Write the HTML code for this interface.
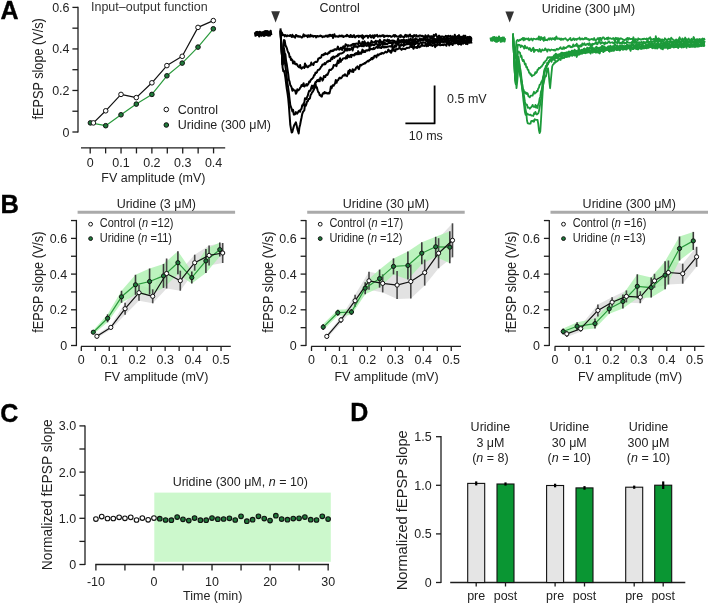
<!DOCTYPE html>
<html><head><meta charset="utf-8"><style>
html,body{margin:0;padding:0;background:#fff;}
svg{display:block;font-family:"Liberation Sans", sans-serif;will-change:transform;}
</style></head><body>
<svg width="709" height="604" viewBox="0 0 709 604">
<rect width="709" height="604" fill="#fff"/>
<text transform="translate(0.6,18.6) scale(1,1.0)" text-anchor="start" font-size="25" font-weight="bold" fill="#000" stroke="#000" stroke-width="0.35">A</text>
<text transform="translate(0.5,212.6) scale(1,1.0)" text-anchor="start" font-size="25.5" font-weight="bold" fill="#000" stroke="#000" stroke-width="0.35">B</text>
<text transform="translate(0.2,421.8) scale(1,1.0)" text-anchor="start" font-size="25" font-weight="bold" fill="#000" stroke="#000" stroke-width="0.35">C</text>
<text transform="translate(350.3,420.6) scale(1,1.0)" text-anchor="start" font-size="25" font-weight="bold" fill="#000" stroke="#000" stroke-width="0.35">D</text>
<line x1="78" y1="6.8" x2="78" y2="132.6" stroke="#1e1e1e" stroke-width="1.3" />
<line x1="72.4" y1="7.4" x2="78" y2="7.4" stroke="#1e1e1e" stroke-width="1.3" />
<line x1="72.4" y1="28.17" x2="78" y2="28.17" stroke="#1e1e1e" stroke-width="1.3" />
<line x1="72.4" y1="48.93" x2="78" y2="48.93" stroke="#1e1e1e" stroke-width="1.3" />
<line x1="72.4" y1="69.7" x2="78" y2="69.7" stroke="#1e1e1e" stroke-width="1.3" />
<line x1="72.4" y1="90.47" x2="78" y2="90.47" stroke="#1e1e1e" stroke-width="1.3" />
<line x1="72.4" y1="111.23" x2="78" y2="111.23" stroke="#1e1e1e" stroke-width="1.3" />
<line x1="72.4" y1="132" x2="78" y2="132" stroke="#1e1e1e" stroke-width="1.3" />
<text transform="translate(69.5,11.9) scale(1,1.08)" text-anchor="end" font-size="12.5" font-weight="normal" fill="#222222" >0.6</text>
<text transform="translate(69.5,53.43) scale(1,1.08)" text-anchor="end" font-size="12.5" font-weight="normal" fill="#222222" >0.4</text>
<text transform="translate(69.5,94.97) scale(1,1.08)" text-anchor="end" font-size="12.5" font-weight="normal" fill="#222222" >0.2</text>
<text transform="translate(69.5,136.5) scale(1,1.08)" text-anchor="end" font-size="12.5" font-weight="normal" fill="#222222" >0</text>
<text transform="translate(42.6,68.8) scale(1.08,1) rotate(-90)" text-anchor="middle" font-size="12.7" fill="#222222">fEPSP slope (V/s)</text>
<line x1="81" y1="147.8" x2="225.2" y2="147.8" stroke="#1e1e1e" stroke-width="1.3" />
<line x1="90.2" y1="147.8" x2="90.2" y2="153.4" stroke="#1e1e1e" stroke-width="1.3" />
<line x1="105.62" y1="147.8" x2="105.62" y2="153.4" stroke="#1e1e1e" stroke-width="1.3" />
<line x1="121.04" y1="147.8" x2="121.04" y2="153.4" stroke="#1e1e1e" stroke-width="1.3" />
<line x1="136.46" y1="147.8" x2="136.46" y2="153.4" stroke="#1e1e1e" stroke-width="1.3" />
<line x1="151.88" y1="147.8" x2="151.88" y2="153.4" stroke="#1e1e1e" stroke-width="1.3" />
<line x1="167.3" y1="147.8" x2="167.3" y2="153.4" stroke="#1e1e1e" stroke-width="1.3" />
<line x1="182.72" y1="147.8" x2="182.72" y2="153.4" stroke="#1e1e1e" stroke-width="1.3" />
<line x1="198.14" y1="147.8" x2="198.14" y2="153.4" stroke="#1e1e1e" stroke-width="1.3" />
<line x1="213.56" y1="147.8" x2="213.56" y2="153.4" stroke="#1e1e1e" stroke-width="1.3" />
<text transform="translate(90.2,167) scale(1,1.08)" text-anchor="middle" font-size="12.5" font-weight="normal" fill="#222222" >0</text>
<text transform="translate(121.04,167) scale(1,1.08)" text-anchor="middle" font-size="12.5" font-weight="normal" fill="#222222" >0.1</text>
<text transform="translate(151.88,167) scale(1,1.08)" text-anchor="middle" font-size="12.5" font-weight="normal" fill="#222222" >0.2</text>
<text transform="translate(182.72,167) scale(1,1.08)" text-anchor="middle" font-size="12.5" font-weight="normal" fill="#222222" >0.3</text>
<text transform="translate(213.56,167) scale(1,1.08)" text-anchor="middle" font-size="12.5" font-weight="normal" fill="#222222" >0.4</text>
<text transform="translate(153.4,181.6) scale(1,1.08)" text-anchor="middle" font-size="12.5" font-weight="normal" fill="#222222" >FV amplitude (mV)</text>
<text transform="translate(91,11) scale(1,1.08)" text-anchor="start" font-size="12.5" font-weight="normal" fill="#333" >Input–output function</text>
<polyline points="90.4,122.9 105.7,125.7 121,114.8 136.3,104.1 151.9,94.4 166.9,75.8 182.2,63.1 198,47.1 213.3,28.8" fill="none" stroke="#2a9a3c" stroke-width="1.2" stroke-linejoin="round" />
<polyline points="93.4,122.9 105.7,110.8 121,94.4 136.3,97.6 151.9,82.8 166.9,65.6 182.2,56.3 198,27.4 213.3,20.6" fill="none" stroke="#111" stroke-width="1.2" stroke-linejoin="round" />
<circle cx="90.4" cy="122.9" r="2.3" fill="#1f7a3a" stroke="#111" stroke-width="1.0"/>
<circle cx="105.7" cy="125.7" r="2.3" fill="#1f7a3a" stroke="#111" stroke-width="1.0"/>
<circle cx="121" cy="114.8" r="2.3" fill="#1f7a3a" stroke="#111" stroke-width="1.0"/>
<circle cx="136.3" cy="104.1" r="2.3" fill="#1f7a3a" stroke="#111" stroke-width="1.0"/>
<circle cx="151.9" cy="94.4" r="2.3" fill="#1f7a3a" stroke="#111" stroke-width="1.0"/>
<circle cx="166.9" cy="75.8" r="2.3" fill="#1f7a3a" stroke="#111" stroke-width="1.0"/>
<circle cx="182.2" cy="63.1" r="2.3" fill="#1f7a3a" stroke="#111" stroke-width="1.0"/>
<circle cx="198" cy="47.1" r="2.3" fill="#1f7a3a" stroke="#111" stroke-width="1.0"/>
<circle cx="213.3" cy="28.8" r="2.3" fill="#1f7a3a" stroke="#111" stroke-width="1.0"/>
<circle cx="93.4" cy="122.9" r="2.3" fill="#fff" stroke="#111" stroke-width="1.0"/>
<circle cx="105.7" cy="110.8" r="2.3" fill="#fff" stroke="#111" stroke-width="1.0"/>
<circle cx="121" cy="94.4" r="2.3" fill="#fff" stroke="#111" stroke-width="1.0"/>
<circle cx="136.3" cy="97.6" r="2.3" fill="#fff" stroke="#111" stroke-width="1.0"/>
<circle cx="151.9" cy="82.8" r="2.3" fill="#fff" stroke="#111" stroke-width="1.0"/>
<circle cx="166.9" cy="65.6" r="2.3" fill="#fff" stroke="#111" stroke-width="1.0"/>
<circle cx="182.2" cy="56.3" r="2.3" fill="#fff" stroke="#111" stroke-width="1.0"/>
<circle cx="198" cy="27.4" r="2.3" fill="#fff" stroke="#111" stroke-width="1.0"/>
<circle cx="213.3" cy="20.6" r="2.3" fill="#fff" stroke="#111" stroke-width="1.0"/>
<circle cx="166.3" cy="109.5" r="2.3" fill="#fff" stroke="#111" stroke-width="1.0"/>
<text transform="translate(177.7,114) scale(1,1.08)" text-anchor="start" font-size="12.5" font-weight="normal" fill="#222222" >Control</text>
<circle cx="166.3" cy="125" r="2.3" fill="#1f7a3a" stroke="#111" stroke-width="1.0"/>
<text transform="translate(177.7,128.8) scale(1,1.08)" text-anchor="start" font-size="12.5" font-weight="normal" fill="#222222" >Uridine (300 μM)</text>
<polyline points="255,32.3 255.6,35.68 256.2,32.14 256.8,34.97 257.4,32.03 258,34.91 258.6,32.34 259.2,36.3 259.8,32 260.4,35.13 261,32.59 261.6,35.71 262.2,32.36 262.8,34.94 263.4,32.28 264,35.92 264.6,31.49 265.2,35.23 265.8,31.16 266.4,34.73 267,31.19 267.6,35.36 268.2,31.54 268.8,35.66 269.4,32.39 270,35.39 270.6,30.79 271.2,35.18" fill="none" stroke="#000" stroke-width="2.3" stroke-linejoin="round" />
<polygon points="271.2,11.2 280,11.2 275.6,22.6" fill="#333" stroke="none" />
<text transform="translate(319.4,12.2) scale(1,1.08)" text-anchor="start" font-size="12.5" font-weight="normal" fill="#222222" >Control</text>
<polyline points="280.5,30.96 281.2,33.18 281.9,32.45 282.6,35.17 283.3,34.82 284,34.98 284.7,36.42 285.4,35.05 286.1,35.66 286.8,36.38 287.5,35.31 288.2,35.69 288.9,35.89 289.6,35.89 290.3,34.95 291,35.96 291.7,36.95 292.4,34.8 293.1,36.64 293.8,36.11 294.5,37.17 295.2,37.59 295.9,35.09 296.6,35.25 297.3,36.24 298,36.64 298.7,36.1 299.4,36.79 300.1,36.25 300.8,36.8 301.5,37.38 302.2,37.39 302.9,36.45 303.6,34.35 304.3,36.4 305,35.41 305.7,35.87 306.4,36.15 307.1,35.37 307.8,37.16 308.5,35.31 309.2,35.7 309.9,36.79 310.6,34.81 311.3,35.95 312,36.23 312.7,35.64 313.4,36.82 314.1,36.05 314.8,36.02 315.5,36.11 316.2,37.44 316.9,35.98 317.6,36.07 318.3,36.56 319,36.21 319.7,36.15 320.4,35.46 321.1,36.29 321.8,35.97 322.5,37.17 323.2,36.79 323.9,36.28 324.6,36.8 325.3,36.05 326,35.49 326.7,36.3 327.4,36.74 328.1,35.33 328.8,36.56 329.5,35.03 330.2,34.77 330.9,36.07 331.6,35.63 332.3,34.82 333,37.98 333.7,35.68 334.4,34.23 335.1,36.45 335.8,36.67 336.5,36.17 337.2,36.15 337.9,36.83 338.6,36.69 339.3,35.52 340,36.24 340.7,36.33 341.4,35.51 342.1,36.49 342.8,35.66 343.5,37.03 344.2,36.44 344.9,36.37 345.6,35.86 346.3,36.21 347,34.8 347.7,35.45 348.4,36.57 349.1,36.3 349.8,36.93 350.5,34.99 351.2,36.87 351.9,35.67 352.6,36.88 353.3,36.4 354,35.15 354.7,37.24 355.4,37.38 356.1,36.25 356.8,36.09 357.5,36.17 358.2,35.55 358.9,37.1 359.6,35.87 360.3,36.23 361,35.67 361.7,37.39 362.4,35.3 363.1,38.79 363.8,36.13 364.5,36.97 365.2,36.25 365.9,35.71 366.6,35.98 367.3,35.8 368,37.82 368.7,35.93 369.4,35.98 370.1,35.17 370.8,37.19 371.5,37.43 372.2,35.69 372.9,35.39 373.6,38.03 374.3,37.23 375,35.08 375.7,36.01 376.4,35.69 377.1,34.84 377.8,36.7 378.5,36.13 379.2,36.2 379.9,35.57 380.6,36.47 381.3,35.72 382,36.02 382.7,35.29 383.4,35.2 384.1,37.11 384.8,35.72 385.5,36.32 386.2,36.07 386.9,35.76 387.6,35.7 388.3,36.55 389,35.85 389.7,35.96 390.4,36.08 391.1,36.94 391.8,36.57 392.5,36.34 393.2,35.62 393.9,35.01 394.6,36.75 395.3,35.16 396,35.92 396.7,36.43 397.4,36.6 398.1,36.64 398.8,36.7 399.5,35.66 400.2,37.14 400.9,35.08 401.6,36.67 402.3,36.4 403,36.7 403.7,37.46 404.4,37.17 405.1,35.21 405.8,34.81 406.5,36.7 407.2,35.34 407.9,36.1 408.6,36.75 409.3,34.9 410,34.56 410.7,36.34 411.4,36.19 412.1,35.98 412.8,37.81 413.5,35.54 414.2,35.06 414.9,36.08 415.6,35.49 416.3,34.99 417,36.62 417.7,36.2 418.4,36.56 419.1,35.52 419.8,35.78 420.5,35.54 421.2,35.63 421.9,36.45 422.6,35.73 423.3,36.59 424,36.59 424.7,39.46 425.4,35.31 426.1,37.03 426.8,36.31 427.5,37.97 428.2,35.3 428.9,36.06 429.6,36.97 430.3,36.36 431,36.49 431.7,36.22 432.4,37.32 433.1,36.44 433.8,34.82 434.5,35.96 435.2,35.01 435.9,34.06 436.6,36.11 437.3,37.52 438,38.16 438.7,35.66 439.4,35.84 440.1,37.4 440.8,36.68 441.5,36.61 442.2,36.55 442.9,36.62 443.6,37.21 444.3,37.03 445,36.79 445.7,35.85 446.4,37.03 447.1,36.14 447.8,37.48 448.5,35.72 449.2,36.58 449.9,36.69 450.6,35.71 451.3,38 452,37.82 452.7,36.38 453.4,37.32 454.1,37.04 454.8,34.8 455.5,36.96 456.2,38.33 456.9,36.85 457.6,35.99 458.3,36.61 459,35.09 459.7,37.72 460.4,37.09 461.1,36.84 461.8,38.01 462.5,36.45 463.2,36.59 463.9,35.52 464.6,38.07 465.3,37.63 466,37.6 466.7,37.43 467.4,37.02 468.1,37.11 468.8,38.37 469.5,36.81 470.2,37.02 470.9,38.12 471.6,37.41" fill="none" stroke="#000" stroke-width="2.0" stroke-linejoin="round" />
<polyline points="280.5,30.1 281.2,42.19 281.9,54.65 282.6,64.35 283.3,54.28 284,40.05 284.7,40.62 285.4,44.81 286.1,46.53 286.8,48.06 287.5,50.46 288.2,52.48 288.9,53.16 289.6,57.04 290.3,56.69 291,60.02 291.7,59.27 292.4,60.1 293.1,63.47 293.8,61.56 294.5,61.79 295.2,64.17 295.9,64.4 296.6,63.79 297.3,64.59 298,66.3 298.7,66.84 299.4,67.35 300.1,64.92 300.8,67.81 301.5,68.59 302.2,68.05 302.9,67.16 303.6,67.45 304.3,67.88 305,63.49 305.7,66.83 306.4,65.43 307.1,66.84 307.8,67.3 308.5,66.57 309.2,65.66 309.9,65.35 310.6,65.41 311.3,62.51 312,64.19 312.7,64.59 313.4,64.99 314.1,62.79 314.8,62.25 315.5,61.82 316.2,62.06 316.9,62.01 317.6,60.92 318.3,58.48 319,58.44 319.7,57.82 320.4,57.94 321.1,57.51 321.8,54.98 322.5,54.81 323.2,55.13 323.9,53.99 324.6,54.64 325.3,53.06 326,53.94 326.7,53.64 327.4,54.21 328.1,53.44 328.8,52.18 329.5,52.88 330.2,51.07 330.9,50.81 331.6,51.3 332.3,50.32 333,51.06 333.7,50.46 334.4,49.28 335.1,49.74 335.8,49.14 336.5,49.8 337.2,48.35 337.9,46.61 338.6,49.16 339.3,49.66 340,49.31 340.7,47.69 341.4,47.64 342.1,50.06 342.8,47.05 343.5,46.24 344.2,48.5 344.9,46.98 345.6,44.25 346.3,45.07 347,45.07 347.7,46.48 348.4,45.24 349.1,45.54 349.8,45.64 350.5,45.77 351.2,44.89 351.9,45.35 352.6,44.14 353.3,44.37 354,43.71 354.7,45.16 355.4,44.12 356.1,43.44 356.8,43.65 357.5,43.68 358.2,44.3 358.9,40.9 359.6,42.85 360.3,43.27 361,45.38 361.7,44.12 362.4,41.65 363.1,43.79 363.8,44.73 364.5,41.34 365.2,42.77 365.9,43.88 366.6,43.27 367.3,43.33 368,42.37 368.7,44.12 369.4,43.89 370.1,42.96 370.8,42.97 371.5,40.86 372.2,42.79 372.9,42.09 373.6,42.49 374.3,42.61 375,41.76 375.7,40.68 376.4,42.15 377.1,41.25 377.8,41.48 378.5,41.2 379.2,42.93 379.9,39.78 380.6,42.38 381.3,41.63 382,42.23 382.7,42.85 383.4,41.35 384.1,39.94 384.8,40.59 385.5,40.32 386.2,40.81 386.9,41.21 387.6,39.62 388.3,41.34 389,39.92 389.7,41.24 390.4,40.9 391.1,40.71 391.8,40.86 392.5,40.47 393.2,40.38 393.9,41.14 394.6,40.75 395.3,42.12 396,43.79 396.7,41.66 397.4,41.16 398.1,38.49 398.8,41.64 399.5,40.48 400.2,42.04 400.9,40.24 401.6,40.49 402.3,40.06 403,41.89 403.7,39.5 404.4,40 405.1,41.96 405.8,40.16 406.5,40 407.2,40.54 407.9,40.64 408.6,39.23 409.3,39.88 410,40.69 410.7,38.57 411.4,40.02 412.1,41.06 412.8,39.35 413.5,39.89 414.2,39.4 414.9,40.87 415.6,38.26 416.3,39.18 417,39.25 417.7,40.11 418.4,40.03 419.1,40.59 419.8,38.33 420.5,40.05 421.2,39.26 421.9,38.96 422.6,39.85 423.3,38.75 424,37.87 424.7,39.13 425.4,38.27 426.1,38.9 426.8,39.65 427.5,41.19 428.2,40.53 428.9,39.18 429.6,39.77 430.3,38.73 431,37 431.7,38.36 432.4,39.59 433.1,38.76 433.8,37.75 434.5,39.74 435.2,39.12 435.9,39.46 436.6,39.26 437.3,39.64 438,37.58 438.7,40.07 439.4,39.45 440.1,37.81 440.8,39.41 441.5,37.99 442.2,38.95 442.9,38.87 443.6,39.2 444.3,38.01 445,41.84 445.7,40.68 446.4,38.08 447.1,37.7 447.8,38.75 448.5,38.88 449.2,38.4 449.9,38.99 450.6,38.43 451.3,39.31 452,36.74 452.7,38.84 453.4,39.59 454.1,40.77 454.8,38.08 455.5,36.87 456.2,38.17 456.9,39.38 457.6,37.92 458.3,38.4 459,38.73 459.7,36.4 460.4,38.01 461.1,38.35 461.8,37.12 462.5,37.6 463.2,38.36 463.9,38.77 464.6,38.5 465.3,35.7 466,38.27 466.7,39.2 467.4,39.01 468.1,38.52 468.8,37.9 469.5,39.02 470.2,38.1 470.9,37.64 471.6,39.51" fill="none" stroke="#000" stroke-width="2.0" stroke-linejoin="round" />
<polyline points="280.5,32.29 281.2,44.32 281.9,54.43 282.6,64.54 283.3,57.96 284,48.46 284.7,53.46 285.4,54.24 286.1,60.99 286.8,64.56 287.5,69.49 288.2,73.85 288.9,79.78 289.6,81.64 290.3,85.08 291,86.14 291.7,87.68 292.4,90.83 293.1,89.17 293.8,90.02 294.5,90.5 295.2,90.52 295.9,93.76 296.6,92.54 297.3,89.29 298,90.52 298.7,89.97 299.4,89.48 300.1,87.8 300.8,87.21 301.5,85.18 302.2,84.83 302.9,86.06 303.6,83.21 304.3,86.55 305,85.71 305.7,85.62 306.4,84.04 307.1,85.5 307.8,84.65 308.5,83.71 309.2,81.48 309.9,81.89 310.6,80.27 311.3,79.42 312,78.91 312.7,78.13 313.4,77.24 314.1,75.11 314.8,75.09 315.5,72.59 316.2,73.07 316.9,72.35 317.6,70.51 318.3,69.79 319,69.85 319.7,69.12 320.4,68.01 321.1,66.77 321.8,66.2 322.5,64.48 323.2,64.43 323.9,64.51 324.6,63.06 325.3,64.21 326,62.88 326.7,62.26 327.4,61.25 328.1,61.65 328.8,60.63 329.5,60.75 330.2,61.08 330.9,59.21 331.6,57.58 332.3,59.13 333,56.65 333.7,56.42 334.4,57.88 335.1,56.65 335.8,56.51 336.5,56.12 337.2,56.16 337.9,54.52 338.6,55.46 339.3,53.69 340,53.74 340.7,53.59 341.4,53.57 342.1,53.17 342.8,52.73 343.5,52.44 344.2,51.61 344.9,49.71 345.6,48.91 346.3,50.58 347,48.21 347.7,50.52 348.4,49.31 349.1,48.63 349.8,50.15 350.5,49.31 351.2,48.72 351.9,47.4 352.6,50.44 353.3,48.04 354,45.69 354.7,46.77 355.4,46.68 356.1,46.05 356.8,46.84 357.5,47.49 358.2,46.13 358.9,45.55 359.6,46.23 360.3,45.87 361,45.19 361.7,46.19 362.4,46.24 363.1,45.29 363.8,46.32 364.5,45.27 365.2,44.84 365.9,45.57 366.6,45.92 367.3,44.77 368,45.4 368.7,44.98 369.4,47.08 370.1,44.33 370.8,45.8 371.5,44.63 372.2,44.48 372.9,45.02 373.6,45.05 374.3,45.23 375,44.43 375.7,43.64 376.4,43.59 377.1,44.28 377.8,45.84 378.5,44.75 379.2,43.92 379.9,45.91 380.6,44.6 381.3,43.54 382,42.26 382.7,44.05 383.4,42.21 384.1,44.44 384.8,42.56 385.5,44.08 386.2,43.55 386.9,44.36 387.6,43.78 388.3,42.9 389,42.79 389.7,42.96 390.4,42.98 391.1,42.41 391.8,42.74 392.5,45.53 393.2,41.4 393.9,42.83 394.6,41.91 395.3,42.68 396,43.13 396.7,42.41 397.4,42.99 398.1,41.18 398.8,43.16 399.5,41.83 400.2,42.7 400.9,42.33 401.6,40.21 402.3,41.54 403,42.23 403.7,43.18 404.4,42.19 405.1,42.12 405.8,40.83 406.5,42.92 407.2,43.16 407.9,41.78 408.6,41.55 409.3,40.45 410,43.89 410.7,43.61 411.4,42.08 412.1,42.44 412.8,41.86 413.5,40.67 414.2,42.37 414.9,41.99 415.6,41.12 416.3,41.44 417,41.85 417.7,41.46 418.4,41.39 419.1,40.49 419.8,40.05 420.5,41.03 421.2,40.43 421.9,39.96 422.6,39.98 423.3,40.54 424,39.5 424.7,38.25 425.4,39.62 426.1,40.96 426.8,41.11 427.5,42.29 428.2,39.64 428.9,40.23 429.6,41.41 430.3,40.54 431,40.44 431.7,41.94 432.4,40.39 433.1,41.35 433.8,39.61 434.5,40.83 435.2,42.39 435.9,39.51 436.6,39.78 437.3,40.9 438,40.91 438.7,38.38 439.4,40.91 440.1,40.85 440.8,39.06 441.5,40.15 442.2,40.67 442.9,39.91 443.6,38.72 444.3,40.09 445,40.84 445.7,41.44 446.4,40.2 447.1,42.18 447.8,39.35 448.5,40.9 449.2,41.08 449.9,40.87 450.6,40.23 451.3,37.63 452,40.55 452.7,39.52 453.4,38.14 454.1,42.14 454.8,42.13 455.5,41.34 456.2,39.27 456.9,41.04 457.6,41.11 458.3,41.06 459,39.86 459.7,38.95 460.4,39.7 461.1,38.16 461.8,38.52 462.5,39.84 463.2,39.01 463.9,38.01 464.6,39.63 465.3,41.14 466,40.65 466.7,39.62 467.4,40.54 468.1,39.03 468.8,39.34 469.5,40.25 470.2,38.62 470.9,39.32 471.6,38.52" fill="none" stroke="#000" stroke-width="2.0" stroke-linejoin="round" />
<polyline points="280.5,28.37 281.2,43.41 281.9,53.09 282.6,63.84 283.3,61.18 284,55.77 284.7,60.73 285.4,66.73 286.1,71.51 286.8,77.81 287.5,83.29 288.2,87.87 288.9,93.1 289.6,99.42 290.3,105.04 291,107.04 291.7,109.09 292.4,111.47 293.1,109.88 293.8,114.54 294.5,114.56 295.2,114.22 295.9,112.08 296.6,113.37 297.3,113.65 298,112.31 298.7,111.07 299.4,110.54 300.1,111.82 300.8,109.27 301.5,108.87 302.2,105.28 302.9,105.63 303.6,103.39 304.3,102.62 305,98.17 305.7,98.48 306.4,99.14 307.1,96.94 307.8,95.54 308.5,92.78 309.2,90.72 309.9,90.89 310.6,90.27 311.3,87.42 312,85.63 312.7,88.38 313.4,85.71 314.1,86.13 314.8,84.21 315.5,82.12 316.2,82.08 316.9,80.59 317.6,80 318.3,81.23 319,79.43 319.7,81.2 320.4,77.51 321.1,78.13 321.8,78.76 322.5,80.67 323.2,79.24 323.9,75.92 324.6,76.67 325.3,76.98 326,75.14 326.7,74.48 327.4,75 328.1,73.44 328.8,71.62 329.5,69.66 330.2,70.09 330.9,69.98 331.6,68.95 332.3,68.83 333,67.61 333.7,65.01 334.4,65.59 335.1,65.32 335.8,64.55 336.5,66.13 337.2,62.9 337.9,60.56 338.6,63.13 339.3,61.19 340,58.32 340.7,61.87 341.4,60.11 342.1,59.98 342.8,58.72 343.5,58.33 344.2,58.1 344.9,58.38 345.6,58.61 346.3,56.29 347,58.26 347.7,54.89 348.4,56.26 349.1,57.25 349.8,56.37 350.5,54.95 351.2,57.17 351.9,54.82 352.6,55.33 353.3,54.98 354,55.57 354.7,53.85 355.4,54.63 356.1,53.02 356.8,54.22 357.5,54.22 358.2,51.12 358.9,54.22 359.6,52.85 360.3,52.5 361,53.91 361.7,52.3 362.4,49.63 363.1,52.2 363.8,50.57 364.5,52.11 365.2,51.97 365.9,50.45 366.6,50.21 367.3,50.62 368,50.31 368.7,49.37 369.4,50.34 370.1,48.19 370.8,49.21 371.5,49.03 372.2,48.94 372.9,49.18 373.6,47.84 374.3,49.01 375,48.24 375.7,47.69 376.4,46.96 377.1,46.91 377.8,47.88 378.5,46.69 379.2,47.27 379.9,47.82 380.6,47.71 381.3,48.04 382,46.58 382.7,45.92 383.4,47.43 384.1,46.82 384.8,47.36 385.5,46.46 386.2,47.28 386.9,46.94 387.6,46.78 388.3,46.55 389,46.4 389.7,46.2 390.4,46.13 391.1,46.63 391.8,45.44 392.5,47.05 393.2,47.2 393.9,47.95 394.6,45.47 395.3,45.29 396,46.92 396.7,45.1 397.4,44.3 398.1,44.65 398.8,44.88 399.5,46.67 400.2,45.14 400.9,45.61 401.6,44.09 402.3,45.03 403,45.2 403.7,45.98 404.4,44.04 405.1,44.94 405.8,44.65 406.5,43.58 407.2,44.27 407.9,44.01 408.6,42.4 409.3,44.52 410,44.41 410.7,43.6 411.4,42.86 412.1,44.9 412.8,42.32 413.5,44.41 414.2,44.64 414.9,41.52 415.6,44.05 416.3,43.19 417,41.65 417.7,43.17 418.4,43.16 419.1,43.93 419.8,43.11 420.5,42.87 421.2,42.75 421.9,43.18 422.6,42.23 423.3,42.5 424,42.81 424.7,42.39 425.4,42.7 426.1,43.91 426.8,44.24 427.5,43.71 428.2,43.02 428.9,42.62 429.6,44.27 430.3,42.85 431,42.51 431.7,42.78 432.4,42.75 433.1,43.55 433.8,40.86 434.5,44.02 435.2,41.75 435.9,41.31 436.6,41.61 437.3,43.7 438,42.06 438.7,42.24 439.4,42.95 440.1,43.17 440.8,41.37 441.5,41.91 442.2,41.1 442.9,42.22 443.6,42.02 444.3,41.8 445,41.53 445.7,41.72 446.4,41.42 447.1,42.35 447.8,43.07 448.5,40.46 449.2,41.79 449.9,43.14 450.6,42.19 451.3,42.68 452,41.66 452.7,40.96 453.4,40.64 454.1,41.76 454.8,41.54 455.5,41.91 456.2,39.82 456.9,40.42 457.6,42 458.3,41.74 459,41.38 459.7,42.21 460.4,40.76 461.1,40.6 461.8,40.81 462.5,42.53 463.2,42.4 463.9,39.16 464.6,42 465.3,40.78 466,40.86 466.7,40.02 467.4,42.8 468.1,40.19 468.8,38.62 469.5,41.78 470.2,40.56 470.9,40.99 471.6,39.89" fill="none" stroke="#000" stroke-width="2.0" stroke-linejoin="round" />
<polyline points="280.5,30.76 281.2,41.92 281.9,54.02 282.6,67.43 283.3,71.3 284,70.84 284.7,73.38 285.4,77.64 286.1,83.27 286.8,88.83 287.5,93.11 288.2,98.47 288.9,105.91 289.6,115.51 290.3,124.87 291,128.92 291.7,132.46 292.4,131.87 293.1,128.89 293.8,126.45 294.5,124.56 295.2,123.72 295.9,122.31 296.6,125.15 297.3,128.66 298,131.22 298.7,133.44 299.4,127.49 300.1,124.76 300.8,121.04 301.5,117.78 302.2,114.11 302.9,112.14 303.6,111.19 304.3,110.41 305,104.28 305.7,105.83 306.4,104.02 307.1,101.57 307.8,101.35 308.5,98.9 309.2,99.03 309.9,98.35 310.6,95.03 311.3,94.08 312,92.46 312.7,91.83 313.4,90.47 314.1,89.02 314.8,85.63 315.5,83.55 316.2,87.63 316.9,87.4 317.6,90.27 318.3,92.2 319,92.82 319.7,95.18 320.4,95 321.1,96.3 321.8,96.66 322.5,94.11 323.2,92.93 323.9,93.59 324.6,91.95 325.3,93.11 326,92.65 326.7,93.32 327.4,93.58 328.1,92.89 328.8,93.6 329.5,93.29 330.2,90.39 330.9,86.48 331.6,88.28 332.3,85.98 333,85.12 333.7,85.58 334.4,84.45 335.1,83.19 335.8,80.04 336.5,82.85 337.2,80.7 337.9,80.35 338.6,79.35 339.3,77.95 340,77.55 340.7,78.39 341.4,77.92 342.1,76.98 342.8,75.82 343.5,75.15 344.2,75.54 344.9,74.25 345.6,75.57 346.3,75.32 347,76.13 347.7,74.22 348.4,71.07 349.1,73.62 349.8,69.64 350.5,71.34 351.2,71.21 351.9,71.63 352.6,69.31 353.3,72.05 354,69.73 354.7,69.62 355.4,69.77 356.1,67.44 356.8,67.48 357.5,66.36 358.2,68.2 358.9,69.14 359.6,66.72 360.3,64.84 361,65.45 361.7,64.73 362.4,64.55 363.1,63.93 363.8,64.04 364.5,62.94 365.2,63.46 365.9,62.58 366.6,61.76 367.3,61.48 368,60.82 368.7,61.34 369.4,60.11 370.1,60.12 370.8,59.19 371.5,57.95 372.2,59.33 372.9,57.44 373.6,58.32 374.3,56.11 375,55.74 375.7,55.85 376.4,57.36 377.1,55.11 377.8,54.42 378.5,55.45 379.2,54.3 379.9,54.35 380.6,53.51 381.3,53.87 382,52.89 382.7,53.24 383.4,53.5 384.1,52.91 384.8,52.34 385.5,51.67 386.2,52.42 386.9,52.36 387.6,51.72 388.3,49.54 389,50.33 389.7,51.59 390.4,50.91 391.1,52.8 391.8,51.04 392.5,48.64 393.2,50.46 393.9,49.65 394.6,51.02 395.3,51.2 396,49.02 396.7,49.24 397.4,49.34 398.1,48.6 398.8,48.79 399.5,47.62 400.2,48.31 400.9,48.99 401.6,49.82 402.3,48.8 403,48.4 403.7,49.02 404.4,48.82 405.1,49.24 405.8,48.73 406.5,47.76 407.2,47.97 407.9,47.84 408.6,47.87 409.3,47.72 410,46.91 410.7,45.85 411.4,46.86 412.1,45.77 412.8,47.27 413.5,48.75 414.2,45.82 414.9,47.53 415.6,47.59 416.3,46.94 417,48.05 417.7,46.53 418.4,44.16 419.1,47.37 419.8,46.85 420.5,46.76 421.2,45.48 421.9,44.17 422.6,45.8 423.3,45.55 424,45.53 424.7,45.96 425.4,44.87 426.1,45.11 426.8,46.25 427.5,44.1 428.2,45.97 428.9,44.19 429.6,44.95 430.3,43.45 431,45.42 431.7,44.89 432.4,45.96 433.1,45.15 433.8,45.13 434.5,45.06 435.2,47.11 435.9,44.56 436.6,45.68 437.3,45.12 438,44.82 438.7,44.66 439.4,44.95 440.1,45.25 440.8,45.15 441.5,44.68 442.2,45.01 442.9,44.39 443.6,45.19 444.3,44.18 445,44.2 445.7,45.11 446.4,45.74 447.1,43.13 447.8,43.82 448.5,43.25 449.2,45.44 449.9,44.19 450.6,42.59 451.3,44.13 452,43.38 452.7,45.06 453.4,42.79 454.1,41.85 454.8,43.53 455.5,43.17 456.2,43.07 456.9,41.73 457.6,43.61 458.3,44.5 459,41.76 459.7,44.02 460.4,41.07 461.1,44.81 461.8,43.33 462.5,42.81 463.2,43.73 463.9,41.65 464.6,42.36 465.3,43.29 466,43.93 466.7,41.32 467.4,44.14 468.1,42.31 468.8,42.06 469.5,42.73 470.2,41.25 470.9,41.36 471.6,43.55" fill="none" stroke="#000" stroke-width="2.0" stroke-linejoin="round" />
<polyline points="434.6,85.6 434.6,123.4 405.4,123.4" fill="none" stroke="#000" stroke-width="1.8" stroke-linejoin="round" stroke-linecap="butt" stroke-linejoin="miter"/>
<text transform="translate(447.1,102.8) scale(1,1.08)" text-anchor="start" font-size="12.5" font-weight="normal" fill="#222222" >0.5 mV</text>
<text transform="translate(408.8,139.5) scale(1,1.08)" text-anchor="start" font-size="12.5" font-weight="normal" fill="#222222" >10 ms</text>
<polyline points="490.6,37.46 491.2,40.46 491.8,38.43 492.4,40.64 493,37.43 493.6,40.1 494.2,37.19 494.8,40.86 495.4,37.77 496,41.58 496.6,37.52 497.2,41.54 497.8,38.05 498.4,40.9 499,36.7 499.6,40.13 500.2,38.34 500.8,41.74 501.4,38.02 502,41.36 502.6,37.66 503.2,40.68 503.8,37.5 504.4,41.48 505,38.11" fill="none" stroke="#1c9a3a" stroke-width="2.2" stroke-linejoin="round" />
<polygon points="505.4,11.6 514,11.6 509.7,22.6" fill="#333" stroke="none" />
<text transform="translate(541.8,12.9) scale(1,1.08)" text-anchor="start" font-size="12.5" font-weight="normal" fill="#222222" >Uridine (300 μM)</text>
<polyline points="513,34.32 513.7,44.95 514.4,56.31 515.1,58.36 515.8,48.43 516.5,41.29 517.2,40.14 517.9,39.9 518.6,40.95 519.3,40.56 520,39.67 520.7,40.09 521.4,38.83 522.1,39.1 522.8,37.84 523.5,40.4 524.2,38.01 524.9,39.89 525.6,38.7 526.3,38.54 527,39.08 527.7,39.37 528.4,38.18 529.1,40.4 529.8,39.28 530.5,39.66 531.2,38.55 531.9,39.54 532.6,40.51 533.3,38.65 534,38.93 534.7,38.95 535.4,39.14 536.1,39.3 536.8,38.62 537.5,38.44 538.2,39.56 538.9,36.33 539.6,38.54 540.3,40.16 541,36.97 541.7,38.48 542.4,39.52 543.1,37.76 543.8,40.95 544.5,37.06 545.2,40.08 545.9,40.17 546.6,39.69 547.3,40.23 548,39.27 548.7,38.33 549.4,39.61 550.1,38.16 550.8,38.79 551.5,39.75 552.2,38.16 552.9,38.73 553.6,39.12 554.3,37.99 555,39.87 555.7,37.86 556.4,36.46 557.1,38.96 557.8,38.42 558.5,38.51 559.2,39.06 559.9,38.47 560.6,39.72 561.3,38.47 562,39.74 562.7,38.97 563.4,39.64 564.1,38.59 564.8,38.62 565.5,38.14 566.2,39.43 566.9,39.7 567.6,40.59 568.3,39.97 569,39.19 569.7,38.84 570.4,37.89 571.1,40.38 571.8,40.1 572.5,39.71 573.2,38.37 573.9,38.48 574.6,40.03 575.3,39.23 576,38.83 576.7,39.89 577.4,38.71 578.1,38.79 578.8,38.65 579.5,37.53 580.2,39.65 580.9,39.49 581.6,38.57 582.3,38.44 583,39.55 583.7,38.95 584.4,39.01 585.1,37.74 585.8,38.93 586.5,37.89 587.2,39.23 587.9,39.28 588.6,38.99 589.3,40.53 590,39.4 590.7,39.45 591.4,39.11 592.1,38.86 592.8,39.72 593.5,39.83 594.2,38.02 594.9,39.79 595.6,40.79 596.3,39.72 597,39.35 597.7,38.07 598.4,38.12 599.1,40.37 599.8,37.79 600.5,37.94 601.2,40.67 601.9,38.74 602.6,37.63 603.3,37.3 604,37.82 604.7,39.23 605.4,38.99 606.1,38.84 606.8,37.85 607.5,39.49 608.2,37.46 608.9,38.82 609.6,38.42 610.3,38.12 611,38.64 611.7,38.96 612.4,38.86 613.1,37.97 613.8,38.7 614.5,40.58 615.2,38.28 615.9,37.81 616.6,39.29 617.3,38.13 618,39.43 618.7,38.25 619.4,39.84 620.1,38.51 620.8,38.25 621.5,38.65 622.2,39.02 622.9,39.64 623.6,39.58 624.3,40.5 625,39.82 625.7,39.18 626.4,39.8 627.1,38.08 627.8,37.95 628.5,39.72 629.2,38.1 629.9,38.92 630.6,39.07 631.3,38.78 632,38.81 632.7,40.2 633.4,37.26 634.1,41.23 634.8,40.89 635.5,39.19 636.2,39.16 636.9,39.72 637.6,40.55 638.3,38.29 639,39.25 639.7,39.05 640.4,39.61 641.1,39.32 641.8,39.69 642.5,38.89 643.2,39.24 643.9,38.71 644.6,38.71 645.3,39.11 646,39.11 646.7,38.34 647.4,40.4 648.1,39.13 648.8,38.19 649.5,38.66 650.2,37.28 650.9,39.62 651.6,39.23 652.3,39.44 653,39.38 653.7,38.82 654.4,39.29 655.1,42.19 655.8,36.19 656.5,39.32 657.2,39.6 657.9,38.49 658.6,38.25 659.3,40.9 660,39.01 660.7,40.85 661.4,39.69 662.1,39.35 662.8,39.66 663.5,39.78 664.2,40.19 664.9,38.24 665.6,39.42 666.3,39.45 667,40.33 667.7,39.94 668.4,38.57 669.1,38.85 669.8,39.58 670.5,40.27 671.2,37.66 671.9,38.63 672.6,39.15 673.3,39.67 674,40.1 674.7,40.76 675.4,40.92 676.1,39.31 676.8,41.76 677.5,40.12 678.2,39.74 678.9,39 679.6,37.26 680.3,39.27 681,39.52 681.7,40.83 682.4,38.36 683.1,40.83 683.8,39.21 684.5,39.95 685.2,37.5 685.9,39.51 686.6,39.15 687.3,39.93 688,39.49 688.7,38.57 689.4,40.14 690.1,41.35 690.8,39.88 691.5,40.19 692.2,40.26 692.9,39.43 693.6,37.03 694.3,38.41 695,40.46 695.7,39.99 696.4,39.54 697.1,39.14 697.8,39.49 698.5,39.49 699.2,39.22 699.9,38.95 700.6,41.1 701.3,39.65 702,39.03 702.7,38.51 703.4,40.35 704.1,38.64 704.8,40.07" fill="none" stroke="#1c9a3a" stroke-width="1.8" stroke-linejoin="round" />
<polyline points="513,34.36 513.7,49.66 514.4,63.14 515.1,77.87 515.8,73.08 516.5,61.53 517.2,50.61 517.9,44.57 518.6,44.96 519.3,44.87 520,45.29 520.7,47.24 521.4,45.51 522.1,45.86 522.8,46.67 523.5,46.62 524.2,48.61 524.9,45.57 525.6,47.81 526.3,48.28 527,47.1 527.7,47.66 528.4,48.67 529.1,49.76 529.8,48.05 530.5,49.11 531.2,51.16 531.9,50.3 532.6,49.04 533.3,47.77 534,52.05 534.7,49.54 535.4,50.67 536.1,49.93 536.8,49.81 537.5,49.89 538.2,51.46 538.9,51.57 539.6,49.02 540.3,49.97 541,51.94 541.7,50.26 542.4,49.45 543.1,50.41 543.8,50.26 544.5,50.2 545.2,48.45 545.9,49.91 546.6,49.73 547.3,51.66 548,49.33 548.7,49.66 549.4,49.7 550.1,50.72 550.8,49.95 551.5,49.53 552.2,49.94 552.9,49.78 553.6,50.22 554.3,49.72 555,50.62 555.7,50.22 556.4,49.11 557.1,48.76 557.8,49.67 558.5,49.33 559.2,48.81 559.9,47.7 560.6,47.31 561.3,48.82 562,49 562.7,48.9 563.4,47.2 564.1,48.81 564.8,47.5 565.5,48.06 566.2,47.96 566.9,46.91 567.6,46.94 568.3,45.7 569,46.43 569.7,45.64 570.4,47.19 571.1,46.77 571.8,47.28 572.5,46.73 573.2,44.46 573.9,46.46 574.6,45.78 575.3,45.02 576,46.12 576.7,43.65 577.4,45.71 578.1,47.07 578.8,45.31 579.5,46.13 580.2,46.66 580.9,45.02 581.6,46.34 582.3,43.44 583,44.94 583.7,44.63 584.4,43.25 585.1,45 585.8,45.15 586.5,44.07 587.2,44.26 587.9,43.73 588.6,44.94 589.3,43.15 590,43.97 590.7,46.98 591.4,44.07 592.1,45.7 592.8,43.75 593.5,44.3 594.2,43.67 594.9,43.92 595.6,42.76 596.3,42.3 597,44.29 597.7,44.08 598.4,42 599.1,42.38 599.8,41.81 600.5,43.79 601.2,43.43 601.9,42.09 602.6,42.29 603.3,43.46 604,42.98 604.7,44.39 605.4,42.26 606.1,42.99 606.8,43.35 607.5,43.03 608.2,42.06 608.9,41.25 609.6,42.62 610.3,42.93 611,42.6 611.7,42.46 612.4,42.25 613.1,43.29 613.8,42.7 614.5,44.22 615.2,40.58 615.9,42.23 616.6,42.81 617.3,43.32 618,40.31 618.7,41 619.4,43.53 620.1,42.76 620.8,43.7 621.5,42.49 622.2,43.74 622.9,41.52 623.6,42.12 624.3,43.61 625,42.77 625.7,43.06 626.4,43.03 627.1,41.08 627.8,42.32 628.5,42.55 629.2,42.95 629.9,42.77 630.6,42.79 631.3,42.52 632,41.81 632.7,42.18 633.4,41.66 634.1,43.1 634.8,39.36 635.5,40.76 636.2,44.1 636.9,42.04 637.6,42.83 638.3,42.26 639,43.22 639.7,42.12 640.4,42.69 641.1,42.29 641.8,41.92 642.5,44.55 643.2,42.23 643.9,41.76 644.6,43.18 645.3,42.42 646,42.43 646.7,41.29 647.4,42.2 648.1,41.01 648.8,42.47 649.5,41.83 650.2,41.83 650.9,40.92 651.6,41.59 652.3,41.46 653,41.96 653.7,40.89 654.4,42 655.1,40.64 655.8,41.1 656.5,41.46 657.2,39.87 657.9,42.58 658.6,39.99 659.3,41.61 660,40.61 660.7,41.52 661.4,42.47 662.1,39.94 662.8,41.91 663.5,41.16 664.2,43.23 664.9,42.45 665.6,42.6 666.3,40.74 667,40.9 667.7,42.52 668.4,41.55 669.1,41.49 669.8,41.92 670.5,40.72 671.2,42.22 671.9,41.64 672.6,41.98 673.3,41.1 674,41.98 674.7,41.05 675.4,42.28 676.1,42.4 676.8,42.22 677.5,41.91 678.2,41.99 678.9,39.47 679.6,42.11 680.3,41.26 681,41.53 681.7,41.23 682.4,40.39 683.1,41.01 683.8,41.9 684.5,42.45 685.2,40.91 685.9,40.69 686.6,42.44 687.3,40.68 688,42.88 688.7,41.35 689.4,40.63 690.1,42.02 690.8,42.54 691.5,38.78 692.2,42.41 692.9,41.02 693.6,42.33 694.3,40.92 695,40.01 695.7,41.55 696.4,41.86 697.1,42.72 697.8,42.43 698.5,41.65 699.2,40.93 699.9,40.71 700.6,40.86 701.3,40.45 702,40.85 702.7,39.14 703.4,41.16 704.1,42.4 704.8,42.93" fill="none" stroke="#1c9a3a" stroke-width="1.8" stroke-linejoin="round" />
<polyline points="513,35.72 513.7,47.74 514.4,59.3 515.1,70.76 515.8,82.25 516.5,78.78 517.2,64.58 517.9,52.56 518.6,51.32 519.3,52.49 520,52.59 520.7,56.73 521.4,55.77 522.1,59.02 522.8,61.07 523.5,59.86 524.2,61.87 524.9,64.48 525.6,63.61 526.3,67.38 527,67.05 527.7,69.89 528.4,70.01 529.1,72.81 529.8,72.9 530.5,74.75 531.2,74.3 531.9,76.31 532.6,75.43 533.3,75.28 534,74.93 534.7,74.38 535.4,72.05 536.1,72.96 536.8,72.27 537.5,69.71 538.2,69.63 538.9,67.93 539.6,68.31 540.3,67.79 541,66.7 541.7,66.52 542.4,65.14 543.1,64.5 543.8,62.54 544.5,62.77 545.2,61.23 545.9,60.65 546.6,60.04 547.3,57.97 548,57.12 548.7,57.8 549.4,57.12 550.1,57.48 550.8,57.18 551.5,57.35 552.2,57.44 552.9,58.01 553.6,56.01 554.3,55.03 555,54.87 555.7,53.61 556.4,53.94 557.1,55.08 557.8,54.7 558.5,54.36 559.2,54.73 559.9,54.19 560.6,54.1 561.3,52.57 562,53.19 562.7,52.69 563.4,53.69 564.1,53.49 564.8,52.87 565.5,52.59 566.2,54.47 566.9,52.05 567.6,52.32 568.3,53.94 569,51.33 569.7,52.15 570.4,53.27 571.1,53.88 571.8,50.71 572.5,50.54 573.2,51.44 573.9,51.94 574.6,49.56 575.3,50.63 576,50.92 576.7,51.41 577.4,50.86 578.1,51.01 578.8,47.47 579.5,51.17 580.2,51.92 580.9,51.06 581.6,49.71 582.3,50.6 583,49.93 583.7,48.87 584.4,50.04 585.1,48.99 585.8,49.99 586.5,50.18 587.2,47.52 587.9,49.16 588.6,48.3 589.3,47.65 590,48.14 590.7,48.32 591.4,49.15 592.1,47.12 592.8,47.54 593.5,49.55 594.2,48.38 594.9,48.23 595.6,47.69 596.3,46.71 597,47.88 597.7,47.66 598.4,47.8 599.1,49.07 599.8,47.58 600.5,47.29 601.2,48.1 601.9,45.88 602.6,45.99 603.3,47.92 604,46.27 604.7,47.24 605.4,47.84 606.1,49.34 606.8,47.73 607.5,47.13 608.2,46.22 608.9,46.93 609.6,47.03 610.3,45.58 611,46.6 611.7,46.83 612.4,46.42 613.1,45.99 613.8,47.08 614.5,45.51 615.2,44.78 615.9,45.42 616.6,46.44 617.3,45.31 618,46.61 618.7,46.17 619.4,46.56 620.1,45.69 620.8,46.06 621.5,48.43 622.2,45.54 622.9,48.06 623.6,45.91 624.3,46.05 625,46.87 625.7,45.71 626.4,46.47 627.1,44.26 627.8,45.99 628.5,45.11 629.2,45.15 629.9,45.21 630.6,45.42 631.3,46.36 632,42.29 632.7,45.07 633.4,44.46 634.1,45.83 634.8,45.99 635.5,45.21 636.2,44.53 636.9,43.89 637.6,45.51 638.3,44.4 639,44.7 639.7,43.55 640.4,44.81 641.1,45.18 641.8,44.08 642.5,45.29 643.2,42.85 643.9,42.98 644.6,43.28 645.3,43.92 646,44.25 646.7,44.14 647.4,44.11 648.1,44.66 648.8,43.72 649.5,43.08 650.2,43.06 650.9,45.55 651.6,42.18 652.3,43.78 653,44.98 653.7,44.23 654.4,43.22 655.1,43.82 655.8,44.44 656.5,44.67 657.2,44.46 657.9,42.88 658.6,43.88 659.3,44.49 660,44.68 660.7,43.35 661.4,42.5 662.1,43.86 662.8,44.87 663.5,44.02 664.2,43.66 664.9,45.26 665.6,42.65 666.3,44.08 667,42.95 667.7,44.79 668.4,43.4 669.1,44.44 669.8,42.58 670.5,42.85 671.2,42.03 671.9,43.57 672.6,42.83 673.3,43.47 674,42.32 674.7,42.83 675.4,43.86 676.1,42.92 676.8,43.49 677.5,43.4 678.2,42.71 678.9,41.78 679.6,43.66 680.3,43.03 681,43.61 681.7,41.34 682.4,41.58 683.1,41.19 683.8,42.11 684.5,42.13 685.2,41.74 685.9,42.67 686.6,42.77 687.3,43.21 688,42.39 688.7,42.89 689.4,42.67 690.1,40.9 690.8,42.23 691.5,43.51 692.2,42.17 692.9,42.33 693.6,41.96 694.3,42.03 695,43.21 695.7,42.14 696.4,41.55 697.1,39.95 697.8,41.83 698.5,40.76 699.2,40.84 699.9,42.78 700.6,42.69 701.3,40.7 702,44.15 702.7,42.43 703.4,41.47 704.1,42.58 704.8,40.79" fill="none" stroke="#1c9a3a" stroke-width="1.8" stroke-linejoin="round" />
<polyline points="513,33.14 513.7,50.17 514.4,63.12 515.1,77.26 515.8,81.21 516.5,74.05 517.2,68.35 517.9,62.71 518.6,56.91 519.3,62.74 520,67.45 520.7,70.92 521.4,77.46 522.1,83.31 522.8,88.68 523.5,89.65 524.2,91.7 524.9,93.22 525.6,92.29 526.3,93.96 527,93.03 527.7,93.52 528.4,96.24 529.1,96.61 529.8,97.31 530.5,96.02 531.2,95.54 531.9,95.67 532.6,95.65 533.3,93.5 534,91.72 534.7,93.64 535.4,92.85 536.1,92.51 536.8,90.97 537.5,91.41 538.2,88.57 538.9,87.73 539.6,84.8 540.3,84.59 541,82.86 541.7,81.05 542.4,80.43 543.1,77.3 543.8,75.46 544.5,71.05 545.2,69.21 545.9,67.94 546.6,65.42 547.3,65.39 548,64.04 548.7,61.94 549.4,60.79 550.1,59.42 550.8,59.12 551.5,59.28 552.2,57.05 552.9,58.93 553.6,57.46 554.3,57.06 555,57.68 555.7,55.01 556.4,55.65 557.1,54.83 557.8,56.91 558.5,55.18 559.2,54.92 559.9,54.18 560.6,55.53 561.3,54.42 562,54.77 562.7,52.95 563.4,55.23 564.1,54.52 564.8,53.11 565.5,53.5 566.2,53.7 566.9,53.59 567.6,54.13 568.3,53.79 569,51.76 569.7,53.25 570.4,52.71 571.1,53.5 571.8,53.54 572.5,52.72 573.2,54 573.9,51.31 574.6,52.16 575.3,53.49 576,53.17 576.7,50.76 577.4,52.88 578.1,52.12 578.8,50.68 579.5,52.04 580.2,50.56 580.9,50.19 581.6,50.96 582.3,50.59 583,50 583.7,50.42 584.4,48.42 585.1,50.5 585.8,50.37 586.5,50.87 587.2,49.9 587.9,49.17 588.6,49.11 589.3,49.85 590,51.12 590.7,50.53 591.4,50.74 592.1,50.46 592.8,48.81 593.5,50.38 594.2,49.26 594.9,50.05 595.6,49.87 596.3,49.13 597,48.11 597.7,48.39 598.4,49.07 599.1,49.87 599.8,53.47 600.5,49.44 601.2,48.91 601.9,48.01 602.6,49.5 603.3,48.79 604,47.96 604.7,48.76 605.4,47.52 606.1,49.51 606.8,47.71 607.5,47.79 608.2,47.73 608.9,47.08 609.6,46.95 610.3,48.27 611,48.33 611.7,48.06 612.4,47.93 613.1,47.23 613.8,47.86 614.5,46.41 615.2,47.45 615.9,48.48 616.6,48.3 617.3,46.89 618,46.91 618.7,48.13 619.4,48.37 620.1,45.84 620.8,46.61 621.5,47.08 622.2,47.79 622.9,46.22 623.6,47.3 624.3,46.56 625,47.15 625.7,47.05 626.4,46.6 627.1,46.42 627.8,46.04 628.5,47.13 629.2,45.77 629.9,46.72 630.6,45.52 631.3,45.93 632,45.5 632.7,45.44 633.4,45.9 634.1,47.05 634.8,45.35 635.5,46.93 636.2,46.12 636.9,45.43 637.6,46.85 638.3,44.69 639,44.73 639.7,46.7 640.4,46.62 641.1,46.83 641.8,45.91 642.5,45.09 643.2,45.63 643.9,46.41 644.6,46.78 645.3,45.4 646,44.85 646.7,44.99 647.4,46.47 648.1,44.75 648.8,44.91 649.5,44.94 650.2,46.7 650.9,46.11 651.6,44.79 652.3,45.51 653,43.99 653.7,44.63 654.4,47.27 655.1,46.2 655.8,44.62 656.5,43.48 657.2,46.04 657.9,45.11 658.6,43.57 659.3,45.74 660,45.47 660.7,46.13 661.4,45.86 662.1,44.8 662.8,43.72 663.5,45.13 664.2,44.13 664.9,44.39 665.6,45.82 666.3,43.87 667,45.78 667.7,45.22 668.4,44.87 669.1,45.35 669.8,45.28 670.5,45.8 671.2,44.56 671.9,44.66 672.6,44.62 673.3,46.19 674,45.46 674.7,45.42 675.4,44.44 676.1,45.53 676.8,44.64 677.5,44.76 678.2,46.3 678.9,44.57 679.6,45.29 680.3,44.82 681,42.53 681.7,44.32 682.4,44.03 683.1,43.01 683.8,45.1 684.5,41.77 685.2,45.27 685.9,43.98 686.6,43.96 687.3,44.51 688,45.1 688.7,44.57 689.4,44.93 690.1,44.13 690.8,43.43 691.5,44.53 692.2,44.53 692.9,46.95 693.6,43.84 694.3,43.77 695,44.68 695.7,42.91 696.4,43.66 697.1,46.79 697.8,44.84 698.5,43.08 699.2,46.19 699.9,45.98 700.6,44.24 701.3,43.91 702,43.78 702.7,42.92 703.4,43.15 704.1,44.06 704.8,43.59" fill="none" stroke="#1c9a3a" stroke-width="1.8" stroke-linejoin="round" />
<polyline points="513,34.87 513.7,49.89 514.4,63.9 515.1,78.64 515.8,84.4 516.5,75.06 517.2,67.93 517.9,59.27 518.6,62.03 519.3,67.4 520,71.23 520.7,76.38 521.4,80.35 522.1,83.47 522.8,89.07 523.5,93.74 524.2,96.79 524.9,101.97 525.6,103.79 526.3,104.87 527,104.77 527.7,107.74 528.4,107.36 529.1,107.74 529.8,108.7 530.5,107.91 531.2,107.19 531.9,106.2 532.6,104.86 533.3,106.65 534,106.9 534.7,106.98 535.4,104.92 536.1,107.66 536.8,105.77 537.5,108 538.2,104.42 538.9,103.15 539.6,98.59 540.3,96.74 541,91.4 541.7,89.82 542.4,84.37 543.1,78.54 543.8,74.75 544.5,72.48 545.2,70.29 545.9,68.93 546.6,66.82 547.3,64.52 548,63.74 548.7,62.35 549.4,60.47 550.1,60.56 550.8,60.5 551.5,59.83 552.2,59 552.9,59.64 553.6,59.19 554.3,59.98 555,57.43 555.7,58.59 556.4,57.92 557.1,55.83 557.8,55.56 558.5,56.33 559.2,54.73 559.9,55.53 560.6,55.16 561.3,54.49 562,54.74 562.7,53.63 563.4,54.3 564.1,53.11 564.8,56.21 565.5,55.53 566.2,55.21 566.9,54.41 567.6,54.83 568.3,54.93 569,54.64 569.7,54.46 570.4,51.58 571.1,53.89 571.8,53.06 572.5,52.47 573.2,52.4 573.9,53.47 574.6,53.83 575.3,51.92 576,54.15 576.7,53.84 577.4,52.34 578.1,52.18 578.8,52.37 579.5,51.65 580.2,51.93 580.9,51.28 581.6,52.26 582.3,50.35 583,51.9 583.7,52.56 584.4,51.82 585.1,52.08 585.8,53.19 586.5,51.9 587.2,49.99 587.9,50.59 588.6,50.97 589.3,51.02 590,51.94 590.7,53.55 591.4,51.18 592.1,50.23 592.8,48.77 593.5,50.51 594.2,51.62 594.9,50.76 595.6,51.8 596.3,49.8 597,50.96 597.7,50.45 598.4,50.12 599.1,50.17 599.8,51.28 600.5,49.83 601.2,51.15 601.9,50.74 602.6,49.78 603.3,50.33 604,49.51 604.7,48.91 605.4,49.26 606.1,48.71 606.8,49.7 607.5,49.26 608.2,49.61 608.9,51.13 609.6,46.7 610.3,47.8 611,47.55 611.7,48.95 612.4,48.1 613.1,48.77 613.8,49.64 614.5,47.27 615.2,48.62 615.9,48.35 616.6,48.32 617.3,48.76 618,48.23 618.7,47.75 619.4,47.52 620.1,50.41 620.8,49.07 621.5,46.59 622.2,48.61 622.9,47.61 623.6,47.56 624.3,47.76 625,47.01 625.7,48.17 626.4,48.77 627.1,45.29 627.8,47.07 628.5,47.36 629.2,46.86 629.9,47.96 630.6,47.31 631.3,47.55 632,47.67 632.7,49.01 633.4,46.99 634.1,47.77 634.8,47.94 635.5,46.65 636.2,47.47 636.9,47.43 637.6,46.92 638.3,47.67 639,47.99 639.7,48.04 640.4,47.02 641.1,47.27 641.8,48.87 642.5,44.85 643.2,47.21 643.9,47.68 644.6,47.1 645.3,47.45 646,47.06 646.7,47.47 647.4,47.83 648.1,46.68 648.8,46.96 649.5,46.74 650.2,46.45 650.9,46.71 651.6,44.45 652.3,47.23 653,47.92 653.7,47.89 654.4,47.54 655.1,45.83 655.8,47.67 656.5,45.96 657.2,46.43 657.9,47.82 658.6,45.61 659.3,47.01 660,46.56 660.7,46.21 661.4,45.64 662.1,46.58 662.8,45.89 663.5,46.99 664.2,47.1 664.9,45.12 665.6,45.74 666.3,47.25 667,45.18 667.7,45.2 668.4,46.07 669.1,45.82 669.8,44.71 670.5,45.52 671.2,46.28 671.9,44.96 672.6,43.74 673.3,47 674,46.76 674.7,44.53 675.4,44.71 676.1,45.97 676.8,44.77 677.5,45.44 678.2,45.27 678.9,45.99 679.6,43.65 680.3,43.87 681,44.57 681.7,47.62 682.4,45.31 683.1,45.52 683.8,47.14 684.5,44.47 685.2,45.13 685.9,45.04 686.6,45.59 687.3,46.14 688,45.31 688.7,45.57 689.4,45.11 690.1,44.83 690.8,45.8 691.5,45.25 692.2,44.8 692.9,44.82 693.6,45.67 694.3,45.31 695,45.56 695.7,45.1 696.4,45.27 697.1,44.38 697.8,44.19 698.5,44.13 699.2,45.65 699.9,45.33 700.6,44.14 701.3,43.8 702,44.63 702.7,44.25 703.4,45.81 704.1,43.44 704.8,43.14" fill="none" stroke="#1c9a3a" stroke-width="1.8" stroke-linejoin="round" />
<polyline points="513,34.25 513.7,45.28 514.4,53.95 515.1,66.25 515.8,75.97 516.5,88.09 517.2,81.88 517.9,73.56 518.6,66.43 519.3,63.8 520,71.52 520.7,75.79 521.4,82.88 522.1,88.28 522.8,93.39 523.5,100.8 524.2,105.95 524.9,111.99 525.6,114.77 526.3,113.39 527,113.51 527.7,114.52 528.4,114.25 529.1,114.99 529.8,114.82 530.5,114.58 531.2,115.58 531.9,115.71 532.6,115.57 533.3,115.94 534,113.26 534.7,114.11 535.4,111.84 536.1,113.39 536.8,114.47 537.5,113.83 538.2,113.54 538.9,111.32 539.6,107.52 540.3,103.65 541,99.4 541.7,96.95 542.4,89.15 543.1,85.35 543.8,82.59 544.5,78.96 545.2,76.12 545.9,76.59 546.6,72.32 547.3,69.18 548,68.18 548.7,73.94 549.4,82.16 550.1,88.26 550.8,80.64 551.5,73.24 552.2,66.5 552.9,64.77 553.6,64.33 554.3,62.65 555,62.91 555.7,60.92 556.4,61.8 557.1,61.29 557.8,60.49 558.5,60.31 559.2,58.62 559.9,58.19 560.6,59.97 561.3,57.02 562,58.4 562.7,58.26 563.4,57.41 564.1,58.06 564.8,57.18 565.5,55.74 566.2,57.11 566.9,56.36 567.6,56.29 568.3,55.96 569,56.72 569.7,55.97 570.4,54.9 571.1,55.64 571.8,55.69 572.5,55.86 573.2,54.53 573.9,54.43 574.6,55.52 575.3,54.7 576,55.06 576.7,56.98 577.4,54.92 578.1,54.65 578.8,54.6 579.5,54.6 580.2,51.78 580.9,53.84 581.6,53.42 582.3,52.94 583,52.56 583.7,52.38 584.4,52.42 585.1,51.56 585.8,52.8 586.5,52.31 587.2,52.33 587.9,52.42 588.6,51.23 589.3,51.56 590,51.85 590.7,52.04 591.4,50.1 592.1,51.63 592.8,52.76 593.5,50.16 594.2,51.8 594.9,51.08 595.6,50.95 596.3,52.43 597,52.51 597.7,51.76 598.4,52.75 599.1,51.36 599.8,50.26 600.5,51.12 601.2,50.32 601.9,49.59 602.6,49.53 603.3,52.15 604,49.93 604.7,50.23 605.4,49.68 606.1,50.2 606.8,49.84 607.5,49.63 608.2,48.95 608.9,48.72 609.6,47.74 610.3,48.44 611,51.1 611.7,50.25 612.4,50.75 613.1,49.66 613.8,49.15 614.5,49.55 615.2,49.06 615.9,47.37 616.6,48.68 617.3,50.04 618,48.99 618.7,49.51 619.4,48.3 620.1,47.48 620.8,46.72 621.5,48.16 622.2,49.33 622.9,49.88 623.6,47.81 624.3,48.07 625,48.2 625.7,48.02 626.4,47.32 627.1,48.3 627.8,48.47 628.5,48.46 629.2,47.23 629.9,48.03 630.6,46.78 631.3,48.74 632,47.26 632.7,47.79 633.4,49.03 634.1,47.5 634.8,47.12 635.5,46.56 636.2,49.15 636.9,48.02 637.6,48 638.3,49.34 639,47.66 639.7,46.73 640.4,47.7 641.1,48.54 641.8,48 642.5,47.83 643.2,47.38 643.9,47.75 644.6,48.38 645.3,45.92 646,47.36 646.7,47.11 647.4,47.17 648.1,45.89 648.8,47.89 649.5,46.68 650.2,47.11 650.9,46.87 651.6,45.97 652.3,46.86 653,45.78 653.7,46.43 654.4,46.87 655.1,47.08 655.8,47.09 656.5,46.92 657.2,48.6 657.9,47.29 658.6,46.02 659.3,46.45 660,46.38 660.7,45.32 661.4,47.77 662.1,46.15 662.8,49.4 663.5,46.77 664.2,46.45 664.9,47.89 665.6,46.48 666.3,47.66 667,46.95 667.7,48.8 668.4,44.19 669.1,48.15 669.8,47.27 670.5,47.93 671.2,46.44 671.9,45.1 672.6,46.8 673.3,45.88 674,44.96 674.7,45.81 675.4,47.04 676.1,47.12 676.8,46.73 677.5,45.37 678.2,48.02 678.9,45.22 679.6,46.01 680.3,44.96 681,47 681.7,46.32 682.4,46.62 683.1,46 683.8,47.25 684.5,46 685.2,43.03 685.9,46.56 686.6,45.07 687.3,45.46 688,45.72 688.7,44.53 689.4,46.85 690.1,45.97 690.8,45.65 691.5,45.21 692.2,44.43 692.9,45.08 693.6,45.55 694.3,45.28 695,45.5 695.7,45.97 696.4,45.71 697.1,45.56 697.8,45.82 698.5,45.44 699.2,45.25 699.9,45.6 700.6,43.92 701.3,46.13 702,44.19 702.7,45.76 703.4,45.11 704.1,45.9 704.8,45.07" fill="none" stroke="#1c9a3a" stroke-width="1.8" stroke-linejoin="round" />
<polyline points="513,34.82 513.7,49.48 514.4,64.53 515.1,78.54 515.8,84.12 516.5,75.44 517.2,70.38 517.9,62.19 518.6,66.6 519.3,69.83 520,74.69 520.7,77.84 521.4,81.81 522.1,87.24 522.8,91.81 523.5,95.57 524.2,99.82 524.9,105.98 525.6,109.4 526.3,113.16 527,120.58 527.7,123.39 528.4,123.35 529.1,123.73 529.8,123.7 530.5,123.7 531.2,121.01 531.9,120.82 532.6,121.34 533.3,120.51 534,121.8 534.7,119.2 535.4,119.51 536.1,119.89 536.8,119.79 537.5,119.78 538.2,123.56 538.9,130 539.6,133.04 540.3,131.45 541,120.38 541.7,107.93 542.4,96.36 543.1,84.66 543.8,72.95 544.5,69.51 545.2,68.29 545.9,65.89 546.6,65.68 547.3,62.55 548,63.63 548.7,61.9 549.4,61.17 550.1,59.89 550.8,59.32 551.5,61.79 552.2,59.32 552.9,59.31 553.6,58.07 554.3,59.11 555,57.43 555.7,57.82 556.4,56.16 557.1,56.67 557.8,58.65 558.5,56.25 559.2,55.96 559.9,56.59 560.6,55.82 561.3,56.71 562,53.87 562.7,56 563.4,55.86 564.1,54.22 564.8,54.31 565.5,55.83 566.2,54.28 566.9,54.5 567.6,56.72 568.3,55.93 569,55.03 569.7,53.93 570.4,54.7 571.1,55.18 571.8,54.52 572.5,52.54 573.2,54.56 573.9,54.02 574.6,53.2 575.3,54.81 576,52.37 576.7,54.97 577.4,53 578.1,54.55 578.8,53.24 579.5,50.78 580.2,51.75 580.9,53.22 581.6,53.28 582.3,53.57 583,50.6 583.7,52.94 584.4,53.02 585.1,52.17 585.8,51.57 586.5,51.46 587.2,51.23 587.9,52.57 588.6,51.25 589.3,50.77 590,52.6 590.7,50.41 591.4,51.59 592.1,50.77 592.8,49.96 593.5,51.27 594.2,50.93 594.9,52.05 595.6,52.61 596.3,52.13 597,51.59 597.7,51.56 598.4,48.94 599.1,50.04 599.8,51.84 600.5,50.32 601.2,50.53 601.9,50.28 602.6,50.35 603.3,49.95 604,50.92 604.7,51.25 605.4,49.99 606.1,49.19 606.8,50.21 607.5,49.01 608.2,49.6 608.9,50.95 609.6,51.72 610.3,50.22 611,49.1 611.7,50.43 612.4,48.12 613.1,49.23 613.8,50.84 614.5,50.21 615.2,48.58 615.9,48.32 616.6,50.16 617.3,49.44 618,48.98 618.7,49.69 619.4,50.3 620.1,47.85 620.8,48.44 621.5,48.71 622.2,48.4 622.9,48.1 623.6,49.24 624.3,48.4 625,49.42 625.7,48.71 626.4,49.67 627.1,48.53 627.8,48.28 628.5,47.25 629.2,47.86 629.9,49.17 630.6,50.86 631.3,47.6 632,47.72 632.7,48.7 633.4,48.75 634.1,47.85 634.8,48.36 635.5,47.06 636.2,47.99 636.9,48.84 637.6,49.34 638.3,47.95 639,47.83 639.7,48.32 640.4,48.77 641.1,48.28 641.8,47.33 642.5,48.13 643.2,48.56 643.9,47.28 644.6,46.79 645.3,48.14 646,48 646.7,48.42 647.4,46.34 648.1,47.17 648.8,47.3 649.5,46.83 650.2,46.86 650.9,47.12 651.6,47.15 652.3,48.32 653,46.55 653.7,47.4 654.4,46.97 655.1,48.49 655.8,47.55 656.5,47.05 657.2,47.91 657.9,47.32 658.6,46.89 659.3,46.97 660,47.72 660.7,48.46 661.4,48 662.1,49.09 662.8,47.19 663.5,46.25 664.2,47.56 664.9,45.66 665.6,47.48 666.3,46.95 667,46.41 667.7,46.15 668.4,47.4 669.1,47.81 669.8,46.61 670.5,47.13 671.2,46.4 671.9,46.12 672.6,46.46 673.3,45.85 674,47.54 674.7,46.83 675.4,46.26 676.1,45.35 676.8,46.42 677.5,47.27 678.2,46.28 678.9,46.16 679.6,46.92 680.3,45.5 681,46.43 681.7,46.81 682.4,45.76 683.1,45.69 683.8,46.47 684.5,46.18 685.2,46.06 685.9,46.36 686.6,47.74 687.3,44.06 688,45.63 688.7,46.43 689.4,46.91 690.1,47.05 690.8,43.99 691.5,46.81 692.2,45.13 692.9,44.52 693.6,46.27 694.3,46.5 695,47.19 695.7,45.05 696.4,46.25 697.1,45.67 697.8,44.2 698.5,46.58 699.2,46.31 699.9,44.92 700.6,45.43 701.3,45.79 702,44.54 702.7,44.81 703.4,45.48 704.1,45.63 704.8,45.73" fill="none" stroke="#1c9a3a" stroke-width="1.8" stroke-linejoin="round" />
<line x1="77.6" y1="212.2" x2="235.1" y2="212.2" stroke="#aaaaaa" stroke-width="3" />
<text transform="translate(156.35,207.5) scale(1,1.08)" text-anchor="middle" font-size="12.5" font-weight="normal" fill="#222222" >Uridine (3 μM)</text>
<polygon points="96.9,334.3 110.8,325.4 125.1,302.7 139,284.7 152.7,289.3 166.6,258.5 180.3,270.7 194.7,254.7 209.1,245.4 222.7,243 222.7,263 209.1,265.4 194.7,270.7 180.3,290.7 166.6,288.5 152.7,303.3 139,300.7 125.1,314.7 110.8,329.4 96.9,338.3" fill="#e2e2e2" stroke="none" />
<polygon points="93.3,330.2 107.6,314.3 121.5,290.8 135.5,274.8 149.6,268.5 163.5,263.9 177.9,251.2 191.8,271.6 205.9,248.9 219.8,242.6 219.8,256.6 205.9,272.9 191.8,283.6 177.9,274.2 163.5,287.9 149.6,294.5 135.5,294.8 121.5,302.8 107.6,322.3 93.3,334.2" fill="#abf0ae" stroke="none" fill-opacity="0.8"/>
<line x1="76.4" y1="219.9" x2="76.4" y2="346.1" stroke="#1e1e1e" stroke-width="1.3" />
<line x1="71" y1="345.5" x2="76.4" y2="345.5" stroke="#1e1e1e" stroke-width="1.3" />
<line x1="71" y1="327.65" x2="76.4" y2="327.65" stroke="#1e1e1e" stroke-width="1.3" />
<line x1="71" y1="309.8" x2="76.4" y2="309.8" stroke="#1e1e1e" stroke-width="1.3" />
<line x1="71" y1="291.95" x2="76.4" y2="291.95" stroke="#1e1e1e" stroke-width="1.3" />
<line x1="71" y1="274.1" x2="76.4" y2="274.1" stroke="#1e1e1e" stroke-width="1.3" />
<line x1="71" y1="256.25" x2="76.4" y2="256.25" stroke="#1e1e1e" stroke-width="1.3" />
<line x1="71" y1="238.4" x2="76.4" y2="238.4" stroke="#1e1e1e" stroke-width="1.3" />
<line x1="71" y1="220.55" x2="76.4" y2="220.55" stroke="#1e1e1e" stroke-width="1.3" />
<text transform="translate(67.1,350) scale(1,1.08)" text-anchor="end" font-size="12.5" font-weight="normal" fill="#222222" >0</text>
<text transform="translate(67.1,314.3) scale(1,1.08)" text-anchor="end" font-size="12.5" font-weight="normal" fill="#222222" >0.2</text>
<text transform="translate(67.1,278.6) scale(1,1.08)" text-anchor="end" font-size="12.5" font-weight="normal" fill="#222222" >0.4</text>
<text transform="translate(67.1,242.9) scale(1,1.08)" text-anchor="end" font-size="12.5" font-weight="normal" fill="#222222" >0.6</text>
<text transform="translate(43.4,282.2) scale(1.08,1) rotate(-90)" text-anchor="middle" font-size="12.7" fill="#222222">fEPSP slope (V/s)</text>
<line x1="81" y1="346.4" x2="230.8" y2="346.4" stroke="#1e1e1e" stroke-width="1.3" />
<line x1="81.3" y1="346.4" x2="81.3" y2="351" stroke="#1e1e1e" stroke-width="1.3" />
<line x1="95.27" y1="346.4" x2="95.27" y2="351" stroke="#1e1e1e" stroke-width="1.3" />
<line x1="109.25" y1="346.4" x2="109.25" y2="351" stroke="#1e1e1e" stroke-width="1.3" />
<line x1="123.22" y1="346.4" x2="123.22" y2="351" stroke="#1e1e1e" stroke-width="1.3" />
<line x1="137.2" y1="346.4" x2="137.2" y2="351" stroke="#1e1e1e" stroke-width="1.3" />
<line x1="151.18" y1="346.4" x2="151.18" y2="351" stroke="#1e1e1e" stroke-width="1.3" />
<line x1="165.15" y1="346.4" x2="165.15" y2="351" stroke="#1e1e1e" stroke-width="1.3" />
<line x1="179.12" y1="346.4" x2="179.12" y2="351" stroke="#1e1e1e" stroke-width="1.3" />
<line x1="193.1" y1="346.4" x2="193.1" y2="351" stroke="#1e1e1e" stroke-width="1.3" />
<line x1="207.07" y1="346.4" x2="207.07" y2="351" stroke="#1e1e1e" stroke-width="1.3" />
<line x1="221.05" y1="346.4" x2="221.05" y2="351" stroke="#1e1e1e" stroke-width="1.3" />
<text transform="translate(81.3,363.5) scale(1,1.08)" text-anchor="middle" font-size="12.5" font-weight="normal" fill="#222222" >0</text>
<text transform="translate(109.25,363.5) scale(1,1.08)" text-anchor="middle" font-size="12.5" font-weight="normal" fill="#222222" >0.1</text>
<text transform="translate(137.2,363.5) scale(1,1.08)" text-anchor="middle" font-size="12.5" font-weight="normal" fill="#222222" >0.2</text>
<text transform="translate(165.15,363.5) scale(1,1.08)" text-anchor="middle" font-size="12.5" font-weight="normal" fill="#222222" >0.3</text>
<text transform="translate(193.1,363.5) scale(1,1.08)" text-anchor="middle" font-size="12.5" font-weight="normal" fill="#222222" >0.4</text>
<text transform="translate(221.05,363.5) scale(1,1.08)" text-anchor="middle" font-size="12.5" font-weight="normal" fill="#222222" >0.5</text>
<text transform="translate(156.3,380.7) scale(1,1.08)" text-anchor="middle" font-size="12.5" font-weight="normal" fill="#222222" >FV amplitude (mV)</text>
<line x1="96.9" y1="334.3" x2="96.9" y2="338.3" stroke="#484848" stroke-width="1.6" />
<line x1="110.8" y1="325.4" x2="110.8" y2="329.4" stroke="#484848" stroke-width="1.6" />
<line x1="125.1" y1="302.7" x2="125.1" y2="314.7" stroke="#484848" stroke-width="1.6" />
<line x1="139" y1="284.7" x2="139" y2="300.7" stroke="#484848" stroke-width="1.6" />
<line x1="152.7" y1="289.3" x2="152.7" y2="303.3" stroke="#484848" stroke-width="1.6" />
<line x1="166.6" y1="258.5" x2="166.6" y2="288.5" stroke="#484848" stroke-width="1.6" />
<line x1="180.3" y1="270.7" x2="180.3" y2="290.7" stroke="#484848" stroke-width="1.6" />
<line x1="194.7" y1="254.7" x2="194.7" y2="270.7" stroke="#484848" stroke-width="1.6" />
<line x1="209.1" y1="245.4" x2="209.1" y2="265.4" stroke="#484848" stroke-width="1.6" />
<line x1="222.7" y1="243" x2="222.7" y2="263" stroke="#484848" stroke-width="1.6" />
<line x1="93.3" y1="330.2" x2="93.3" y2="334.2" stroke="#3a3a3a" stroke-width="1.6" />
<line x1="107.6" y1="314.3" x2="107.6" y2="322.3" stroke="#3a3a3a" stroke-width="1.6" />
<line x1="121.5" y1="290.8" x2="121.5" y2="302.8" stroke="#3a3a3a" stroke-width="1.6" />
<line x1="135.5" y1="274.8" x2="135.5" y2="294.8" stroke="#3a3a3a" stroke-width="1.6" />
<line x1="149.6" y1="268.5" x2="149.6" y2="294.5" stroke="#3a3a3a" stroke-width="1.6" />
<line x1="163.5" y1="263.9" x2="163.5" y2="287.9" stroke="#3a3a3a" stroke-width="1.6" />
<line x1="177.9" y1="251.2" x2="177.9" y2="274.2" stroke="#3a3a3a" stroke-width="1.6" />
<line x1="191.8" y1="271.6" x2="191.8" y2="283.6" stroke="#3a3a3a" stroke-width="1.6" />
<line x1="205.9" y1="248.9" x2="205.9" y2="272.9" stroke="#3a3a3a" stroke-width="1.6" />
<line x1="219.8" y1="242.6" x2="219.8" y2="256.6" stroke="#3a3a3a" stroke-width="1.6" />
<polyline points="93.3,332.2 107.6,318.3 121.5,296.8 135.5,284.8 149.6,281.5 163.5,275.9 177.9,262.7 191.8,277.6 205.9,260.9 219.8,249.6" fill="none" stroke="#2a9a3c" stroke-width="1.2" stroke-linejoin="round" />
<polyline points="96.9,336.3 110.8,327.4 125.1,308.7 139,292.7 152.7,296.3 166.6,273.5 180.3,280.7 194.7,262.7 209.1,255.4 222.7,253" fill="none" stroke="#111" stroke-width="1.2" stroke-linejoin="round" />
<circle cx="93.3" cy="332.2" r="2.1" fill="#1f7a3a" stroke="#111" stroke-width="1.0"/>
<circle cx="107.6" cy="318.3" r="2.1" fill="#1f7a3a" stroke="#111" stroke-width="1.0"/>
<circle cx="121.5" cy="296.8" r="2.1" fill="#1f7a3a" stroke="#111" stroke-width="1.0"/>
<circle cx="135.5" cy="284.8" r="2.1" fill="#1f7a3a" stroke="#111" stroke-width="1.0"/>
<circle cx="149.6" cy="281.5" r="2.1" fill="#1f7a3a" stroke="#111" stroke-width="1.0"/>
<circle cx="163.5" cy="275.9" r="2.1" fill="#1f7a3a" stroke="#111" stroke-width="1.0"/>
<circle cx="177.9" cy="262.7" r="2.1" fill="#1f7a3a" stroke="#111" stroke-width="1.0"/>
<circle cx="191.8" cy="277.6" r="2.1" fill="#1f7a3a" stroke="#111" stroke-width="1.0"/>
<circle cx="205.9" cy="260.9" r="2.1" fill="#1f7a3a" stroke="#111" stroke-width="1.0"/>
<circle cx="219.8" cy="249.6" r="2.1" fill="#1f7a3a" stroke="#111" stroke-width="1.0"/>
<circle cx="96.9" cy="336.3" r="2.1" fill="#fff" stroke="#111" stroke-width="1.0"/>
<circle cx="110.8" cy="327.4" r="2.1" fill="#fff" stroke="#111" stroke-width="1.0"/>
<circle cx="125.1" cy="308.7" r="2.1" fill="#fff" stroke="#111" stroke-width="1.0"/>
<circle cx="139" cy="292.7" r="2.1" fill="#fff" stroke="#111" stroke-width="1.0"/>
<circle cx="152.7" cy="296.3" r="2.1" fill="#fff" stroke="#111" stroke-width="1.0"/>
<circle cx="166.6" cy="273.5" r="2.1" fill="#fff" stroke="#111" stroke-width="1.0"/>
<circle cx="180.3" cy="280.7" r="2.1" fill="#fff" stroke="#111" stroke-width="1.0"/>
<circle cx="194.7" cy="262.7" r="2.1" fill="#fff" stroke="#111" stroke-width="1.0"/>
<circle cx="209.1" cy="255.4" r="2.1" fill="#fff" stroke="#111" stroke-width="1.0"/>
<circle cx="222.7" cy="253" r="2.1" fill="#fff" stroke="#111" stroke-width="1.0"/>
<circle cx="90.6" cy="224.2" r="1.9" fill="#fff" stroke="#111" stroke-width="1.0"/>
<text transform="translate(99.8,227.2) scale(1,1.08)" text-anchor="start" font-size="11" font-weight="normal" fill="#222222" >Control (<tspan font-style="italic">n</tspan> =<tspan>12</tspan>)</text>
<circle cx="90.6" cy="238.6" r="1.9" fill="#1f7a3a" stroke="#111" stroke-width="1.0"/>
<text transform="translate(99.8,241.8) scale(1,1.08)" text-anchor="start" font-size="11" font-weight="normal" fill="#222222" >Uridine (<tspan font-style="italic">n</tspan> =<tspan>11</tspan>)</text>
<line x1="307.2" y1="212.2" x2="464.7" y2="212.2" stroke="#aaaaaa" stroke-width="3" />
<text transform="translate(385.95,207.5) scale(1,1.08)" text-anchor="middle" font-size="12.5" font-weight="normal" fill="#222222" >Uridine (30 μM)</text>
<polygon points="326.8,334.4 341,316.9 355.1,294.7 369,271.8 382.7,274.4 397.1,271.1 410.8,264.5 424.7,259.6 438.6,238.2 452.5,223.3 452.5,257.3 438.6,268.2 424.7,285.6 410.8,298.5 397.1,299.1 382.7,292.4 369,289.8 355.1,306.7 341,322.9 326.8,338.4" fill="#e2e2e2" stroke="none" />
<polygon points="323.2,324.1 337.8,309.7 351.5,309 365.2,282.2 379.6,269.6 393.5,258.4 407.9,251.5 421.8,242.2 435.7,236.8 449.8,231.2 449.8,263.2 435.7,256.8 421.8,264.2 407.9,279.5 393.5,274.4 379.6,287.6 365.2,294.2 351.5,315 337.8,315.7 323.2,330.1" fill="#abf0ae" stroke="none" fill-opacity="0.8"/>
<line x1="306" y1="219.9" x2="306" y2="346.1" stroke="#1e1e1e" stroke-width="1.3" />
<line x1="300.6" y1="345.5" x2="306" y2="345.5" stroke="#1e1e1e" stroke-width="1.3" />
<line x1="300.6" y1="327.65" x2="306" y2="327.65" stroke="#1e1e1e" stroke-width="1.3" />
<line x1="300.6" y1="309.8" x2="306" y2="309.8" stroke="#1e1e1e" stroke-width="1.3" />
<line x1="300.6" y1="291.95" x2="306" y2="291.95" stroke="#1e1e1e" stroke-width="1.3" />
<line x1="300.6" y1="274.1" x2="306" y2="274.1" stroke="#1e1e1e" stroke-width="1.3" />
<line x1="300.6" y1="256.25" x2="306" y2="256.25" stroke="#1e1e1e" stroke-width="1.3" />
<line x1="300.6" y1="238.4" x2="306" y2="238.4" stroke="#1e1e1e" stroke-width="1.3" />
<line x1="300.6" y1="220.55" x2="306" y2="220.55" stroke="#1e1e1e" stroke-width="1.3" />
<text transform="translate(296.7,350) scale(1,1.08)" text-anchor="end" font-size="12.5" font-weight="normal" fill="#222222" >0</text>
<text transform="translate(296.7,314.3) scale(1,1.08)" text-anchor="end" font-size="12.5" font-weight="normal" fill="#222222" >0.2</text>
<text transform="translate(296.7,278.6) scale(1,1.08)" text-anchor="end" font-size="12.5" font-weight="normal" fill="#222222" >0.4</text>
<text transform="translate(296.7,242.9) scale(1,1.08)" text-anchor="end" font-size="12.5" font-weight="normal" fill="#222222" >0.6</text>
<text transform="translate(273,282.2) scale(1.08,1) rotate(-90)" text-anchor="middle" font-size="12.7" fill="#222222">fEPSP slope (V/s)</text>
<line x1="311.2" y1="346.4" x2="461" y2="346.4" stroke="#1e1e1e" stroke-width="1.3" />
<line x1="311.5" y1="346.4" x2="311.5" y2="351" stroke="#1e1e1e" stroke-width="1.3" />
<line x1="325.48" y1="346.4" x2="325.48" y2="351" stroke="#1e1e1e" stroke-width="1.3" />
<line x1="339.45" y1="346.4" x2="339.45" y2="351" stroke="#1e1e1e" stroke-width="1.3" />
<line x1="353.43" y1="346.4" x2="353.43" y2="351" stroke="#1e1e1e" stroke-width="1.3" />
<line x1="367.4" y1="346.4" x2="367.4" y2="351" stroke="#1e1e1e" stroke-width="1.3" />
<line x1="381.38" y1="346.4" x2="381.38" y2="351" stroke="#1e1e1e" stroke-width="1.3" />
<line x1="395.35" y1="346.4" x2="395.35" y2="351" stroke="#1e1e1e" stroke-width="1.3" />
<line x1="409.32" y1="346.4" x2="409.32" y2="351" stroke="#1e1e1e" stroke-width="1.3" />
<line x1="423.3" y1="346.4" x2="423.3" y2="351" stroke="#1e1e1e" stroke-width="1.3" />
<line x1="437.27" y1="346.4" x2="437.27" y2="351" stroke="#1e1e1e" stroke-width="1.3" />
<line x1="451.25" y1="346.4" x2="451.25" y2="351" stroke="#1e1e1e" stroke-width="1.3" />
<text transform="translate(311.5,363.5) scale(1,1.08)" text-anchor="middle" font-size="12.5" font-weight="normal" fill="#222222" >0</text>
<text transform="translate(339.45,363.5) scale(1,1.08)" text-anchor="middle" font-size="12.5" font-weight="normal" fill="#222222" >0.1</text>
<text transform="translate(367.4,363.5) scale(1,1.08)" text-anchor="middle" font-size="12.5" font-weight="normal" fill="#222222" >0.2</text>
<text transform="translate(395.35,363.5) scale(1,1.08)" text-anchor="middle" font-size="12.5" font-weight="normal" fill="#222222" >0.3</text>
<text transform="translate(423.3,363.5) scale(1,1.08)" text-anchor="middle" font-size="12.5" font-weight="normal" fill="#222222" >0.4</text>
<text transform="translate(451.25,363.5) scale(1,1.08)" text-anchor="middle" font-size="12.5" font-weight="normal" fill="#222222" >0.5</text>
<text transform="translate(386.5,380.7) scale(1,1.08)" text-anchor="middle" font-size="12.5" font-weight="normal" fill="#222222" >FV amplitude (mV)</text>
<line x1="326.8" y1="334.4" x2="326.8" y2="338.4" stroke="#484848" stroke-width="1.6" />
<line x1="341" y1="316.9" x2="341" y2="322.9" stroke="#484848" stroke-width="1.6" />
<line x1="355.1" y1="294.7" x2="355.1" y2="306.7" stroke="#484848" stroke-width="1.6" />
<line x1="369" y1="271.8" x2="369" y2="289.8" stroke="#484848" stroke-width="1.6" />
<line x1="382.7" y1="274.4" x2="382.7" y2="292.4" stroke="#484848" stroke-width="1.6" />
<line x1="397.1" y1="271.1" x2="397.1" y2="299.1" stroke="#484848" stroke-width="1.6" />
<line x1="410.8" y1="264.5" x2="410.8" y2="298.5" stroke="#484848" stroke-width="1.6" />
<line x1="424.7" y1="259.6" x2="424.7" y2="285.6" stroke="#484848" stroke-width="1.6" />
<line x1="438.6" y1="238.2" x2="438.6" y2="268.2" stroke="#484848" stroke-width="1.6" />
<line x1="452.5" y1="223.3" x2="452.5" y2="257.3" stroke="#484848" stroke-width="1.6" />
<line x1="323.2" y1="324.1" x2="323.2" y2="330.1" stroke="#3a3a3a" stroke-width="1.6" />
<line x1="337.8" y1="309.7" x2="337.8" y2="315.7" stroke="#3a3a3a" stroke-width="1.6" />
<line x1="351.5" y1="309" x2="351.5" y2="315" stroke="#3a3a3a" stroke-width="1.6" />
<line x1="365.2" y1="282.2" x2="365.2" y2="294.2" stroke="#3a3a3a" stroke-width="1.6" />
<line x1="379.6" y1="269.6" x2="379.6" y2="287.6" stroke="#3a3a3a" stroke-width="1.6" />
<line x1="393.5" y1="258.4" x2="393.5" y2="274.4" stroke="#3a3a3a" stroke-width="1.6" />
<line x1="407.9" y1="251.5" x2="407.9" y2="279.5" stroke="#3a3a3a" stroke-width="1.6" />
<line x1="421.8" y1="242.2" x2="421.8" y2="264.2" stroke="#3a3a3a" stroke-width="1.6" />
<line x1="435.7" y1="236.8" x2="435.7" y2="256.8" stroke="#3a3a3a" stroke-width="1.6" />
<line x1="449.8" y1="231.2" x2="449.8" y2="263.2" stroke="#3a3a3a" stroke-width="1.6" />
<polyline points="323.2,327.1 337.8,312.7 351.5,312 365.2,288.2 379.6,278.6 393.5,266.4 407.9,265.5 421.8,253.2 435.7,246.8 449.8,247.2" fill="none" stroke="#2a9a3c" stroke-width="1.2" stroke-linejoin="round" />
<polyline points="326.8,336.4 341,319.9 355.1,300.7 369,280.8 382.7,283.4 397.1,285.1 410.8,281.5 424.7,272.6 438.6,253.2 452.5,240.3" fill="none" stroke="#111" stroke-width="1.2" stroke-linejoin="round" />
<circle cx="323.2" cy="327.1" r="2.1" fill="#1f7a3a" stroke="#111" stroke-width="1.0"/>
<circle cx="337.8" cy="312.7" r="2.1" fill="#1f7a3a" stroke="#111" stroke-width="1.0"/>
<circle cx="351.5" cy="312" r="2.1" fill="#1f7a3a" stroke="#111" stroke-width="1.0"/>
<circle cx="365.2" cy="288.2" r="2.1" fill="#1f7a3a" stroke="#111" stroke-width="1.0"/>
<circle cx="379.6" cy="278.6" r="2.1" fill="#1f7a3a" stroke="#111" stroke-width="1.0"/>
<circle cx="393.5" cy="266.4" r="2.1" fill="#1f7a3a" stroke="#111" stroke-width="1.0"/>
<circle cx="407.9" cy="265.5" r="2.1" fill="#1f7a3a" stroke="#111" stroke-width="1.0"/>
<circle cx="421.8" cy="253.2" r="2.1" fill="#1f7a3a" stroke="#111" stroke-width="1.0"/>
<circle cx="435.7" cy="246.8" r="2.1" fill="#1f7a3a" stroke="#111" stroke-width="1.0"/>
<circle cx="449.8" cy="247.2" r="2.1" fill="#1f7a3a" stroke="#111" stroke-width="1.0"/>
<circle cx="326.8" cy="336.4" r="2.1" fill="#fff" stroke="#111" stroke-width="1.0"/>
<circle cx="341" cy="319.9" r="2.1" fill="#fff" stroke="#111" stroke-width="1.0"/>
<circle cx="355.1" cy="300.7" r="2.1" fill="#fff" stroke="#111" stroke-width="1.0"/>
<circle cx="369" cy="280.8" r="2.1" fill="#fff" stroke="#111" stroke-width="1.0"/>
<circle cx="382.7" cy="283.4" r="2.1" fill="#fff" stroke="#111" stroke-width="1.0"/>
<circle cx="397.1" cy="285.1" r="2.1" fill="#fff" stroke="#111" stroke-width="1.0"/>
<circle cx="410.8" cy="281.5" r="2.1" fill="#fff" stroke="#111" stroke-width="1.0"/>
<circle cx="424.7" cy="272.6" r="2.1" fill="#fff" stroke="#111" stroke-width="1.0"/>
<circle cx="438.6" cy="253.2" r="2.1" fill="#fff" stroke="#111" stroke-width="1.0"/>
<circle cx="452.5" cy="240.3" r="2.1" fill="#fff" stroke="#111" stroke-width="1.0"/>
<circle cx="320.2" cy="224.2" r="1.9" fill="#fff" stroke="#111" stroke-width="1.0"/>
<text transform="translate(329.4,227.2) scale(1,1.08)" text-anchor="start" font-size="11" font-weight="normal" fill="#222222" >Control (<tspan font-style="italic">n</tspan> =<tspan>17</tspan>)</text>
<circle cx="320.2" cy="238.6" r="1.9" fill="#1f7a3a" stroke="#111" stroke-width="1.0"/>
<text transform="translate(329.4,241.8) scale(1,1.08)" text-anchor="start" font-size="11" font-weight="normal" fill="#222222" >Uridine (<tspan font-style="italic">n</tspan> =<tspan>12</tspan>)</text>
<line x1="550.5" y1="212.2" x2="708" y2="212.2" stroke="#aaaaaa" stroke-width="3" />
<text transform="translate(629.25,207.5) scale(1,1.08)" text-anchor="middle" font-size="12.5" font-weight="normal" fill="#222222" >Uridine (300 μM)</text>
<polygon points="566.8,330.9 580.7,325.7 597.9,304.4 612.1,297.2 626.4,290.4 640.3,291.2 654.5,273.8 668.4,260.5 682.7,263.7 696.6,246.8 696.6,266.8 682.7,283.7 668.4,284.5 654.5,287.8 640.3,303.2 626.4,302.4 612.1,307.2 597.9,316.4 580.7,331.7 566.8,336.9" fill="#e2e2e2" stroke="none" />
<polygon points="563.2,328.5 577.1,322.3 595,318.6 609.2,303.8 622.9,294.5 637.3,274.3 651.2,277.6 665.1,261.2 679.5,236.5 693.3,231.9 693.3,249.9 679.5,260.5 665.1,289.2 651.2,297.6 637.3,298.3 622.9,308.5 609.2,313.8 595,328.6 577.1,330.3 563.2,334.5" fill="#abf0ae" stroke="none" fill-opacity="0.8"/>
<line x1="549.3" y1="219.9" x2="549.3" y2="346.1" stroke="#1e1e1e" stroke-width="1.3" />
<line x1="543.9" y1="345.5" x2="549.3" y2="345.5" stroke="#1e1e1e" stroke-width="1.3" />
<line x1="543.9" y1="327.65" x2="549.3" y2="327.65" stroke="#1e1e1e" stroke-width="1.3" />
<line x1="543.9" y1="309.8" x2="549.3" y2="309.8" stroke="#1e1e1e" stroke-width="1.3" />
<line x1="543.9" y1="291.95" x2="549.3" y2="291.95" stroke="#1e1e1e" stroke-width="1.3" />
<line x1="543.9" y1="274.1" x2="549.3" y2="274.1" stroke="#1e1e1e" stroke-width="1.3" />
<line x1="543.9" y1="256.25" x2="549.3" y2="256.25" stroke="#1e1e1e" stroke-width="1.3" />
<line x1="543.9" y1="238.4" x2="549.3" y2="238.4" stroke="#1e1e1e" stroke-width="1.3" />
<line x1="543.9" y1="220.55" x2="549.3" y2="220.55" stroke="#1e1e1e" stroke-width="1.3" />
<text transform="translate(540,350) scale(1,1.08)" text-anchor="end" font-size="12.5" font-weight="normal" fill="#222222" >0</text>
<text transform="translate(540,314.3) scale(1,1.08)" text-anchor="end" font-size="12.5" font-weight="normal" fill="#222222" >0.2</text>
<text transform="translate(540,278.6) scale(1,1.08)" text-anchor="end" font-size="12.5" font-weight="normal" fill="#222222" >0.4</text>
<text transform="translate(540,242.9) scale(1,1.08)" text-anchor="end" font-size="12.5" font-weight="normal" fill="#222222" >0.6</text>
<text transform="translate(516.3,282.2) scale(1.08,1) rotate(-90)" text-anchor="middle" font-size="12.7" fill="#222222">fEPSP slope (V/s)</text>
<line x1="554.7" y1="346.4" x2="704.5" y2="346.4" stroke="#1e1e1e" stroke-width="1.3" />
<line x1="555" y1="346.4" x2="555" y2="351" stroke="#1e1e1e" stroke-width="1.3" />
<line x1="568.98" y1="346.4" x2="568.98" y2="351" stroke="#1e1e1e" stroke-width="1.3" />
<line x1="582.95" y1="346.4" x2="582.95" y2="351" stroke="#1e1e1e" stroke-width="1.3" />
<line x1="596.92" y1="346.4" x2="596.92" y2="351" stroke="#1e1e1e" stroke-width="1.3" />
<line x1="610.9" y1="346.4" x2="610.9" y2="351" stroke="#1e1e1e" stroke-width="1.3" />
<line x1="624.88" y1="346.4" x2="624.88" y2="351" stroke="#1e1e1e" stroke-width="1.3" />
<line x1="638.85" y1="346.4" x2="638.85" y2="351" stroke="#1e1e1e" stroke-width="1.3" />
<line x1="652.83" y1="346.4" x2="652.83" y2="351" stroke="#1e1e1e" stroke-width="1.3" />
<line x1="666.8" y1="346.4" x2="666.8" y2="351" stroke="#1e1e1e" stroke-width="1.3" />
<line x1="680.77" y1="346.4" x2="680.77" y2="351" stroke="#1e1e1e" stroke-width="1.3" />
<line x1="694.75" y1="346.4" x2="694.75" y2="351" stroke="#1e1e1e" stroke-width="1.3" />
<text transform="translate(555,363.5) scale(1,1.08)" text-anchor="middle" font-size="12.5" font-weight="normal" fill="#222222" >0</text>
<text transform="translate(582.95,363.5) scale(1,1.08)" text-anchor="middle" font-size="12.5" font-weight="normal" fill="#222222" >0.1</text>
<text transform="translate(610.9,363.5) scale(1,1.08)" text-anchor="middle" font-size="12.5" font-weight="normal" fill="#222222" >0.2</text>
<text transform="translate(638.85,363.5) scale(1,1.08)" text-anchor="middle" font-size="12.5" font-weight="normal" fill="#222222" >0.3</text>
<text transform="translate(666.8,363.5) scale(1,1.08)" text-anchor="middle" font-size="12.5" font-weight="normal" fill="#222222" >0.4</text>
<text transform="translate(694.75,363.5) scale(1,1.08)" text-anchor="middle" font-size="12.5" font-weight="normal" fill="#222222" >0.5</text>
<text transform="translate(630,380.7) scale(1,1.08)" text-anchor="middle" font-size="12.5" font-weight="normal" fill="#222222" >FV amplitude (mV)</text>
<line x1="566.8" y1="330.9" x2="566.8" y2="336.9" stroke="#484848" stroke-width="1.6" />
<line x1="580.7" y1="325.7" x2="580.7" y2="331.7" stroke="#484848" stroke-width="1.6" />
<line x1="597.9" y1="304.4" x2="597.9" y2="316.4" stroke="#484848" stroke-width="1.6" />
<line x1="612.1" y1="297.2" x2="612.1" y2="307.2" stroke="#484848" stroke-width="1.6" />
<line x1="626.4" y1="290.4" x2="626.4" y2="302.4" stroke="#484848" stroke-width="1.6" />
<line x1="640.3" y1="291.2" x2="640.3" y2="303.2" stroke="#484848" stroke-width="1.6" />
<line x1="654.5" y1="273.8" x2="654.5" y2="287.8" stroke="#484848" stroke-width="1.6" />
<line x1="668.4" y1="260.5" x2="668.4" y2="284.5" stroke="#484848" stroke-width="1.6" />
<line x1="682.7" y1="263.7" x2="682.7" y2="283.7" stroke="#484848" stroke-width="1.6" />
<line x1="696.6" y1="246.8" x2="696.6" y2="266.8" stroke="#484848" stroke-width="1.6" />
<line x1="563.2" y1="328.5" x2="563.2" y2="334.5" stroke="#3a3a3a" stroke-width="1.6" />
<line x1="577.1" y1="322.3" x2="577.1" y2="330.3" stroke="#3a3a3a" stroke-width="1.6" />
<line x1="595" y1="318.6" x2="595" y2="328.6" stroke="#3a3a3a" stroke-width="1.6" />
<line x1="609.2" y1="303.8" x2="609.2" y2="313.8" stroke="#3a3a3a" stroke-width="1.6" />
<line x1="622.9" y1="294.5" x2="622.9" y2="308.5" stroke="#3a3a3a" stroke-width="1.6" />
<line x1="637.3" y1="274.3" x2="637.3" y2="298.3" stroke="#3a3a3a" stroke-width="1.6" />
<line x1="651.2" y1="277.6" x2="651.2" y2="297.6" stroke="#3a3a3a" stroke-width="1.6" />
<line x1="665.1" y1="261.2" x2="665.1" y2="289.2" stroke="#3a3a3a" stroke-width="1.6" />
<line x1="679.5" y1="236.5" x2="679.5" y2="260.5" stroke="#3a3a3a" stroke-width="1.6" />
<line x1="693.3" y1="231.9" x2="693.3" y2="249.9" stroke="#3a3a3a" stroke-width="1.6" />
<polyline points="563.2,331.5 577.1,326.3 595,323.6 609.2,308.8 622.9,301.5 637.3,286.3 651.2,287.6 665.1,275.2 679.5,248.5 693.3,240.9" fill="none" stroke="#2a9a3c" stroke-width="1.2" stroke-linejoin="round" />
<polyline points="566.8,333.9 580.7,328.7 597.9,310.4 612.1,302.2 626.4,296.4 640.3,297.2 654.5,280.8 668.4,272.5 682.7,273.7 696.6,256.8" fill="none" stroke="#111" stroke-width="1.2" stroke-linejoin="round" />
<circle cx="563.2" cy="331.5" r="2.1" fill="#1f7a3a" stroke="#111" stroke-width="1.0"/>
<circle cx="577.1" cy="326.3" r="2.1" fill="#1f7a3a" stroke="#111" stroke-width="1.0"/>
<circle cx="595" cy="323.6" r="2.1" fill="#1f7a3a" stroke="#111" stroke-width="1.0"/>
<circle cx="609.2" cy="308.8" r="2.1" fill="#1f7a3a" stroke="#111" stroke-width="1.0"/>
<circle cx="622.9" cy="301.5" r="2.1" fill="#1f7a3a" stroke="#111" stroke-width="1.0"/>
<circle cx="637.3" cy="286.3" r="2.1" fill="#1f7a3a" stroke="#111" stroke-width="1.0"/>
<circle cx="651.2" cy="287.6" r="2.1" fill="#1f7a3a" stroke="#111" stroke-width="1.0"/>
<circle cx="665.1" cy="275.2" r="2.1" fill="#1f7a3a" stroke="#111" stroke-width="1.0"/>
<circle cx="679.5" cy="248.5" r="2.1" fill="#1f7a3a" stroke="#111" stroke-width="1.0"/>
<circle cx="693.3" cy="240.9" r="2.1" fill="#1f7a3a" stroke="#111" stroke-width="1.0"/>
<circle cx="566.8" cy="333.9" r="2.1" fill="#fff" stroke="#111" stroke-width="1.0"/>
<circle cx="580.7" cy="328.7" r="2.1" fill="#fff" stroke="#111" stroke-width="1.0"/>
<circle cx="597.9" cy="310.4" r="2.1" fill="#fff" stroke="#111" stroke-width="1.0"/>
<circle cx="612.1" cy="302.2" r="2.1" fill="#fff" stroke="#111" stroke-width="1.0"/>
<circle cx="626.4" cy="296.4" r="2.1" fill="#fff" stroke="#111" stroke-width="1.0"/>
<circle cx="640.3" cy="297.2" r="2.1" fill="#fff" stroke="#111" stroke-width="1.0"/>
<circle cx="654.5" cy="280.8" r="2.1" fill="#fff" stroke="#111" stroke-width="1.0"/>
<circle cx="668.4" cy="272.5" r="2.1" fill="#fff" stroke="#111" stroke-width="1.0"/>
<circle cx="682.7" cy="273.7" r="2.1" fill="#fff" stroke="#111" stroke-width="1.0"/>
<circle cx="696.6" cy="256.8" r="2.1" fill="#fff" stroke="#111" stroke-width="1.0"/>
<circle cx="563.5" cy="224.2" r="1.9" fill="#fff" stroke="#111" stroke-width="1.0"/>
<text transform="translate(572.7,227.2) scale(1,1.08)" text-anchor="start" font-size="11" font-weight="normal" fill="#222222" >Control (<tspan font-style="italic">n</tspan> =<tspan>16</tspan>)</text>
<circle cx="563.5" cy="238.6" r="1.9" fill="#1f7a3a" stroke="#111" stroke-width="1.0"/>
<text transform="translate(572.7,241.8) scale(1,1.08)" text-anchor="start" font-size="11" font-weight="normal" fill="#222222" >Uridine (<tspan font-style="italic">n</tspan> =<tspan>13</tspan>)</text>
<rect x="154.3" y="492.6" width="176.5" height="69.2" fill="#ccf8cc"/>
<line x1="85" y1="425.4" x2="85" y2="565.1" stroke="#1e1e1e" stroke-width="1.3" />
<line x1="79.4" y1="564.5" x2="85" y2="564.5" stroke="#1e1e1e" stroke-width="1.3" />
<line x1="79.4" y1="541.4" x2="85" y2="541.4" stroke="#1e1e1e" stroke-width="1.3" />
<line x1="79.4" y1="518.3" x2="85" y2="518.3" stroke="#1e1e1e" stroke-width="1.3" />
<line x1="79.4" y1="495.2" x2="85" y2="495.2" stroke="#1e1e1e" stroke-width="1.3" />
<line x1="79.4" y1="472.1" x2="85" y2="472.1" stroke="#1e1e1e" stroke-width="1.3" />
<line x1="79.4" y1="449" x2="85" y2="449" stroke="#1e1e1e" stroke-width="1.3" />
<line x1="79.4" y1="425.9" x2="85" y2="425.9" stroke="#1e1e1e" stroke-width="1.3" />
<text transform="translate(76.2,569) scale(1,1.08)" text-anchor="end" font-size="12.5" font-weight="normal" fill="#222222" >0</text>
<text transform="translate(76.2,522.8) scale(1,1.08)" text-anchor="end" font-size="12.5" font-weight="normal" fill="#222222" >1.0</text>
<text transform="translate(76.2,476.6) scale(1,1.08)" text-anchor="end" font-size="12.5" font-weight="normal" fill="#222222" >2.0</text>
<text transform="translate(76.2,430.4) scale(1,1.08)" text-anchor="end" font-size="12.5" font-weight="normal" fill="#222222" >3.0</text>
<text transform="translate(52.4,494.7) scale(1.08,1) rotate(-90)" text-anchor="middle" font-size="13" fill="#222222" textLength="151" lengthAdjust="spacingAndGlyphs">Normalized fEPSP slope</text>
<line x1="95.3" y1="564.5" x2="329" y2="564.5" stroke="#1e1e1e" stroke-width="1.3" />
<line x1="95.9" y1="564.5" x2="95.9" y2="570.4" stroke="#1e1e1e" stroke-width="1.3" />
<line x1="124.93" y1="564.5" x2="124.93" y2="570.4" stroke="#1e1e1e" stroke-width="1.3" />
<line x1="153.96" y1="564.5" x2="153.96" y2="570.4" stroke="#1e1e1e" stroke-width="1.3" />
<line x1="182.99" y1="564.5" x2="182.99" y2="570.4" stroke="#1e1e1e" stroke-width="1.3" />
<line x1="212.02" y1="564.5" x2="212.02" y2="570.4" stroke="#1e1e1e" stroke-width="1.3" />
<line x1="241.05" y1="564.5" x2="241.05" y2="570.4" stroke="#1e1e1e" stroke-width="1.3" />
<line x1="270.08" y1="564.5" x2="270.08" y2="570.4" stroke="#1e1e1e" stroke-width="1.3" />
<line x1="299.11" y1="564.5" x2="299.11" y2="570.4" stroke="#1e1e1e" stroke-width="1.3" />
<line x1="328.14" y1="564.5" x2="328.14" y2="570.4" stroke="#1e1e1e" stroke-width="1.3" />
<text transform="translate(95.9,585.5) scale(1,1.08)" text-anchor="middle" font-size="12.5" font-weight="normal" fill="#222222" >-10</text>
<text transform="translate(153.96,585.5) scale(1,1.08)" text-anchor="middle" font-size="12.5" font-weight="normal" fill="#222222" >0</text>
<text transform="translate(212.02,585.5) scale(1,1.08)" text-anchor="middle" font-size="12.5" font-weight="normal" fill="#222222" >10</text>
<text transform="translate(270.08,585.5) scale(1,1.08)" text-anchor="middle" font-size="12.5" font-weight="normal" fill="#222222" >20</text>
<text transform="translate(328.14,585.5) scale(1,1.08)" text-anchor="middle" font-size="12.5" font-weight="normal" fill="#222222" >30</text>
<text transform="translate(212.7,600.3) scale(1,1.08)" text-anchor="middle" font-size="12.5" font-weight="normal" fill="#222222" >Time (min)</text>
<text transform="translate(240.3,486) scale(1,1.08)" text-anchor="middle" font-size="12.5" font-weight="normal" fill="#222222" >Uridine (300 μM, <tspan font-style="italic">n</tspan> = 10)</text>
<circle cx="95.9" cy="519.1" r="2.3" fill="#fff" stroke="#111" stroke-width="1.1"/>
<circle cx="101.71" cy="516.6" r="2.3" fill="#fff" stroke="#111" stroke-width="1.1"/>
<circle cx="107.51" cy="518.5" r="2.3" fill="#fff" stroke="#111" stroke-width="1.1"/>
<circle cx="113.31" cy="518.5" r="2.3" fill="#fff" stroke="#111" stroke-width="1.1"/>
<circle cx="119.12" cy="517.3" r="2.3" fill="#fff" stroke="#111" stroke-width="1.1"/>
<circle cx="124.93" cy="518.3" r="2.3" fill="#fff" stroke="#111" stroke-width="1.1"/>
<circle cx="130.73" cy="517.3" r="2.3" fill="#fff" stroke="#111" stroke-width="1.1"/>
<circle cx="136.53" cy="520" r="2.3" fill="#fff" stroke="#111" stroke-width="1.1"/>
<circle cx="142.34" cy="518.1" r="2.3" fill="#fff" stroke="#111" stroke-width="1.1"/>
<circle cx="148.15" cy="519.8" r="2.3" fill="#fff" stroke="#111" stroke-width="1.1"/>
<circle cx="153.95" cy="518.1" r="2.3" fill="#fff" stroke="#111" stroke-width="1.1"/>
<circle cx="159.75" cy="518.7" r="2.3" fill="#1f7a3a" stroke="#111" stroke-width="1.1"/>
<circle cx="165.56" cy="520" r="2.3" fill="#1f7a3a" stroke="#111" stroke-width="1.1"/>
<circle cx="171.37" cy="520.2" r="2.3" fill="#1f7a3a" stroke="#111" stroke-width="1.1"/>
<circle cx="177.17" cy="517.1" r="2.3" fill="#1f7a3a" stroke="#111" stroke-width="1.1"/>
<circle cx="182.97" cy="519.3" r="2.3" fill="#1f7a3a" stroke="#111" stroke-width="1.1"/>
<circle cx="188.78" cy="520.6" r="2.3" fill="#1f7a3a" stroke="#111" stroke-width="1.1"/>
<circle cx="194.59" cy="518.1" r="2.3" fill="#1f7a3a" stroke="#111" stroke-width="1.1"/>
<circle cx="200.39" cy="520.2" r="2.3" fill="#1f7a3a" stroke="#111" stroke-width="1.1"/>
<circle cx="206.19" cy="520.2" r="2.3" fill="#1f7a3a" stroke="#111" stroke-width="1.1"/>
<circle cx="212" cy="518.1" r="2.3" fill="#1f7a3a" stroke="#111" stroke-width="1.1"/>
<circle cx="217.81" cy="519.2" r="2.3" fill="#1f7a3a" stroke="#111" stroke-width="1.1"/>
<circle cx="223.61" cy="519" r="2.3" fill="#1f7a3a" stroke="#111" stroke-width="1.1"/>
<circle cx="229.41" cy="518.3" r="2.3" fill="#1f7a3a" stroke="#111" stroke-width="1.1"/>
<circle cx="235.22" cy="520" r="2.3" fill="#1f7a3a" stroke="#111" stroke-width="1.1"/>
<circle cx="241.03" cy="516.3" r="2.3" fill="#1f7a3a" stroke="#111" stroke-width="1.1"/>
<circle cx="246.83" cy="521.2" r="2.3" fill="#1f7a3a" stroke="#111" stroke-width="1.1"/>
<circle cx="252.63" cy="519.7" r="2.3" fill="#1f7a3a" stroke="#111" stroke-width="1.1"/>
<circle cx="258.44" cy="516.3" r="2.3" fill="#1f7a3a" stroke="#111" stroke-width="1.1"/>
<circle cx="264.25" cy="518.6" r="2.3" fill="#1f7a3a" stroke="#111" stroke-width="1.1"/>
<circle cx="270.05" cy="520.6" r="2.3" fill="#1f7a3a" stroke="#111" stroke-width="1.1"/>
<circle cx="275.86" cy="515.7" r="2.3" fill="#1f7a3a" stroke="#111" stroke-width="1.1"/>
<circle cx="281.66" cy="519.1" r="2.3" fill="#1f7a3a" stroke="#111" stroke-width="1.1"/>
<circle cx="287.47" cy="519.7" r="2.3" fill="#1f7a3a" stroke="#111" stroke-width="1.1"/>
<circle cx="293.27" cy="518.6" r="2.3" fill="#1f7a3a" stroke="#111" stroke-width="1.1"/>
<circle cx="299.07" cy="518.3" r="2.3" fill="#1f7a3a" stroke="#111" stroke-width="1.1"/>
<circle cx="304.88" cy="517.1" r="2.3" fill="#1f7a3a" stroke="#111" stroke-width="1.1"/>
<circle cx="310.69" cy="519.7" r="2.3" fill="#1f7a3a" stroke="#111" stroke-width="1.1"/>
<circle cx="316.49" cy="520" r="2.3" fill="#1f7a3a" stroke="#111" stroke-width="1.1"/>
<circle cx="322.29" cy="516.3" r="2.3" fill="#1f7a3a" stroke="#111" stroke-width="1.1"/>
<circle cx="328.1" cy="519.1" r="2.3" fill="#1f7a3a" stroke="#111" stroke-width="1.1"/>
<line x1="441" y1="436.1" x2="441" y2="583.1" stroke="#1e1e1e" stroke-width="1.3" />
<line x1="436" y1="582.5" x2="441" y2="582.5" stroke="#1e1e1e" stroke-width="1.3" />
<line x1="436" y1="533.9" x2="441" y2="533.9" stroke="#1e1e1e" stroke-width="1.3" />
<line x1="436" y1="485.3" x2="441" y2="485.3" stroke="#1e1e1e" stroke-width="1.3" />
<line x1="436" y1="436.7" x2="441" y2="436.7" stroke="#1e1e1e" stroke-width="1.3" />
<text transform="translate(431.6,587) scale(1,1.08)" text-anchor="end" font-size="12.5" font-weight="normal" fill="#222222" >0</text>
<text transform="translate(431.6,538.4) scale(1,1.08)" text-anchor="end" font-size="12.5" font-weight="normal" fill="#222222" >0.5</text>
<text transform="translate(431.6,489.8) scale(1,1.08)" text-anchor="end" font-size="12.5" font-weight="normal" fill="#222222" >1.0</text>
<text transform="translate(431.6,441.2) scale(1,1.08)" text-anchor="end" font-size="12.5" font-weight="normal" fill="#222222" >1.5</text>
<text transform="translate(406.9,510.3) scale(1.08,1) rotate(-90)" text-anchor="middle" font-size="13.6" fill="#222222" textLength="160" lengthAdjust="spacingAndGlyphs">Normalized fEPSP slope</text>
<line x1="450.2" y1="582.5" x2="685.3" y2="582.5" stroke="#1e1e1e" stroke-width="1.3" />
<rect x="467.7" y="483.4" width="17" height="99.1" fill="#e5e5e5" stroke="#111" stroke-width="1.1"/>
<line x1="476.2" y1="481.4" x2="476.2" y2="485.4" stroke="#000" stroke-width="2.2" />
<line x1="476.2" y1="582.5" x2="476.2" y2="586.5" stroke="#1e1e1e" stroke-width="1.3" />
<text transform="translate(476.2,600) scale(1,1.08)" text-anchor="middle" font-size="12.5" font-weight="normal" fill="#222222" >pre</text>
<rect x="497" y="484" width="17" height="98.5" fill="#0a9633" stroke="#111" stroke-width="1.1"/>
<line x1="505.5" y1="482.4" x2="505.5" y2="485.6" stroke="#000" stroke-width="2.2" />
<line x1="505.5" y1="582.5" x2="505.5" y2="586.5" stroke="#1e1e1e" stroke-width="1.3" />
<text transform="translate(505.5,600) scale(1,1.08)" text-anchor="middle" font-size="12.5" font-weight="normal" fill="#222222" >post</text>
<rect x="546.6" y="485.5" width="17" height="97" fill="#e5e5e5" stroke="#111" stroke-width="1.1"/>
<line x1="555.1" y1="483.7" x2="555.1" y2="487.3" stroke="#000" stroke-width="2.2" />
<line x1="555.1" y1="582.5" x2="555.1" y2="586.5" stroke="#1e1e1e" stroke-width="1.3" />
<text transform="translate(555.1,600) scale(1,1.08)" text-anchor="middle" font-size="12.5" font-weight="normal" fill="#222222" >pre</text>
<rect x="576" y="487.9" width="17" height="94.6" fill="#0a9633" stroke="#111" stroke-width="1.1"/>
<line x1="584.5" y1="486.1" x2="584.5" y2="489.7" stroke="#000" stroke-width="2.2" />
<line x1="584.5" y1="582.5" x2="584.5" y2="586.5" stroke="#1e1e1e" stroke-width="1.3" />
<text transform="translate(584.5,600) scale(1,1.08)" text-anchor="middle" font-size="12.5" font-weight="normal" fill="#222222" >post</text>
<rect x="625.7" y="487.2" width="17" height="95.3" fill="#e5e5e5" stroke="#111" stroke-width="1.1"/>
<line x1="634.2" y1="485.6" x2="634.2" y2="488.8" stroke="#000" stroke-width="2.2" />
<line x1="634.2" y1="582.5" x2="634.2" y2="586.5" stroke="#1e1e1e" stroke-width="1.3" />
<text transform="translate(634.2,600) scale(1,1.08)" text-anchor="middle" font-size="12.5" font-weight="normal" fill="#222222" >pre</text>
<rect x="654.7" y="485.2" width="17" height="97.3" fill="#0a9633" stroke="#111" stroke-width="1.1"/>
<line x1="663.2" y1="481.4" x2="663.2" y2="489" stroke="#000" stroke-width="2.2" />
<line x1="663.2" y1="582.5" x2="663.2" y2="586.5" stroke="#1e1e1e" stroke-width="1.3" />
<text transform="translate(663.2,600) scale(1,1.08)" text-anchor="middle" font-size="12.5" font-weight="normal" fill="#222222" >post</text>
<text transform="translate(490.4,431) scale(1,1.08)" text-anchor="middle" font-size="12.5" font-weight="normal" fill="#222222" >Uridine</text>
<text transform="translate(490.4,446.8) scale(1,1.08)" text-anchor="middle" font-size="12.5" font-weight="normal" fill="#222222" >3 μM</text>
<text transform="translate(490.4,462) scale(1,1.08)" text-anchor="middle" font-size="12.5" font-weight="normal" fill="#222222" >(<tspan font-style="italic">n</tspan> = 8)</text>
<text transform="translate(569.3,431) scale(1,1.08)" text-anchor="middle" font-size="12.5" font-weight="normal" fill="#222222" >Uridine</text>
<text transform="translate(569.3,446.8) scale(1,1.08)" text-anchor="middle" font-size="12.5" font-weight="normal" fill="#222222" >30 μM</text>
<text transform="translate(569.3,462) scale(1,1.08)" text-anchor="middle" font-size="12.5" font-weight="normal" fill="#222222" >(<tspan font-style="italic">n</tspan> = 10)</text>
<text transform="translate(648.5,431) scale(1,1.08)" text-anchor="middle" font-size="12.5" font-weight="normal" fill="#222222" >Uridine</text>
<text transform="translate(648.5,446.8) scale(1,1.08)" text-anchor="middle" font-size="12.5" font-weight="normal" fill="#222222" >300 μM</text>
<text transform="translate(648.5,462) scale(1,1.08)" text-anchor="middle" font-size="12.5" font-weight="normal" fill="#222222" >(<tspan font-style="italic">n</tspan> = 10)</text>
</svg></body></html>
